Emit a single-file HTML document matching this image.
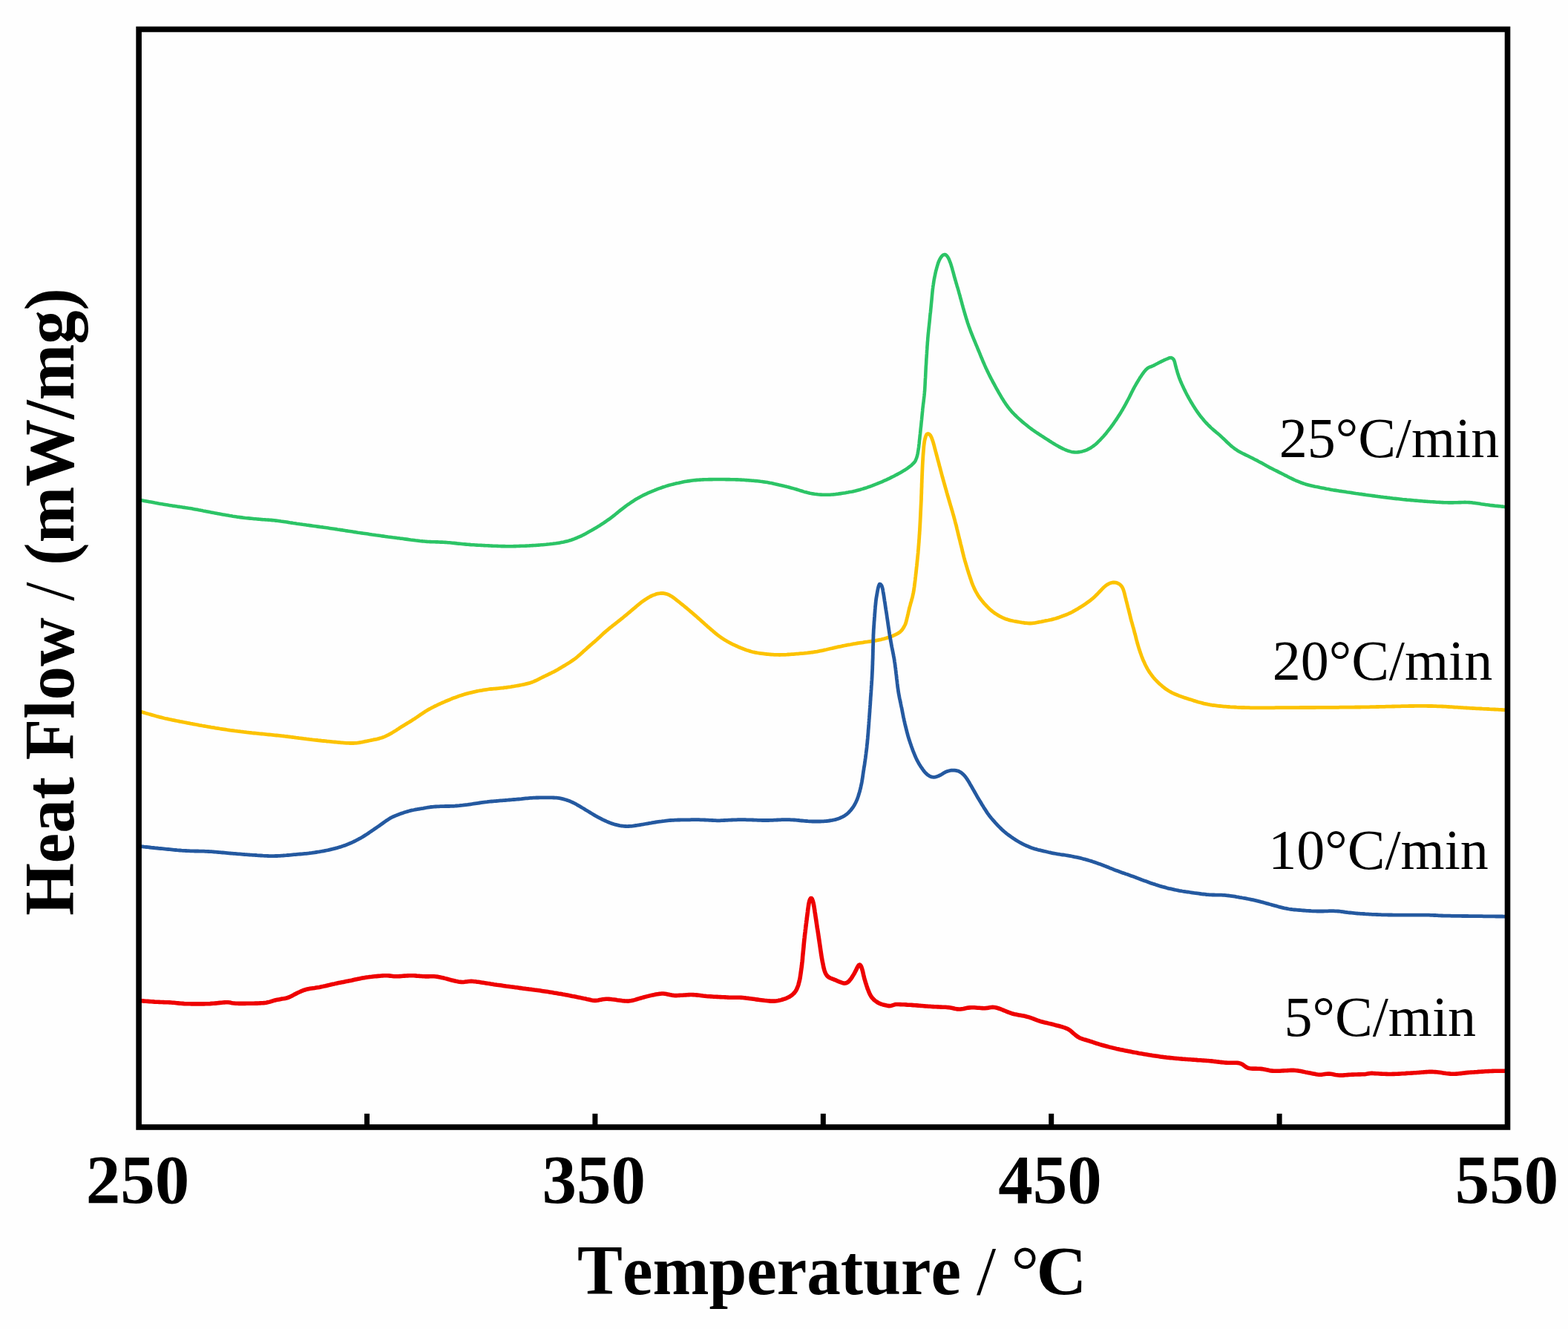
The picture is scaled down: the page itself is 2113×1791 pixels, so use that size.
<!DOCTYPE html>
<html><head><meta charset="utf-8"><title>DSC heat flow curves</title>
<style>
html,body{margin:0;padding:0;background:#fefefe;}
text{font-kerning:none;}
body{width:2113px;height:1791px;overflow:hidden;}
svg{display:block;}
.b{font-family:"Liberation Serif","Times New Roman",serif;font-weight:bold;fill:#000;}
.r{font-family:"Liberation Serif","Times New Roman",serif;font-weight:normal;fill:#000;}
</style></head>
<body>
<svg xmlns="http://www.w3.org/2000/svg" width="2113" height="1791" viewBox="0 0 2113 1791">
<rect width="2113" height="1791" fill="#fefefe"/>
<clipPath id="c"><rect x="187.1" y="39.5" width="1844.4" height="1479.5"/></clipPath>
<g clip-path="url(#c)" fill="none" stroke-linejoin="round" stroke-linecap="round">
<path d="M188.0,673.7L192.2,674.5 192.7,674.6 193.4,674.7 194.4,674.9 195.6,675.2 197.1,675.4 199.0,675.8 201.1,676.2 203.4,676.6 205.9,677.1 208.5,677.6 211.0,678.0 213.6,678.5 216.1,678.9 218.5,679.3 220.7,679.7 222.5,680.0 224.3,680.3 226.2,680.6 228.2,680.9 230.2,681.2 232.4,681.6 234.6,681.9 236.9,682.2 239.1,682.6 241.4,682.9 243.7,683.2 245.9,683.6 248.1,683.9 250.1,684.2 252.1,684.5 254.0,684.8 255.7,685.0 257.4,685.3 259.1,685.6 260.7,685.9 263.6,686.4 265.9,686.8 267.8,687.2 269.4,687.5 270.8,687.8 272.3,688.0 273.8,688.4 275.8,688.7 278.1,689.2 281.0,689.8 282.6,690.1 284.3,690.4 286.0,690.7 287.8,691.1 289.6,691.4 291.6,691.8 293.7,692.2 295.9,692.6 298.1,693.0 300.4,693.4 302.7,693.8 305.0,694.2 307.3,694.6 309.5,695.0 311.7,695.3 313.7,695.7 315.7,696.0 317.6,696.3 319.4,696.6 321.1,696.8 323.5,697.1 325.8,697.4 328.2,697.7 330.5,698.0 332.8,698.2 334.9,698.4 337.0,698.6 339.0,698.8 340.9,699.0 342.7,699.2 344.5,699.3 346.3,699.5 348.0,699.6 349.7,699.7 351.4,699.9 353.8,700.1 356.0,700.2 358.0,700.4 359.8,700.5 361.6,700.6 363.3,700.8 365.1,700.9 367.1,701.1 369.3,701.3 371.8,701.6 373.5,701.8 375.2,702.0 376.9,702.2 378.7,702.5 380.5,702.7 382.3,703.0 384.3,703.3 386.3,703.6 388.4,703.9 390.5,704.3 392.8,704.6 395.2,705.0 397.5,705.3 400.0,705.7 402.3,706.0 404.1,706.3 405.8,706.5 407.6,706.8 409.4,707.0 411.3,707.3 413.2,707.6 415.2,707.8 417.3,708.1 419.4,708.4 421.5,708.7 423.6,709.0 425.7,709.3 427.9,709.6 430.0,709.9 432.1,710.2 434.2,710.4 436.3,710.7 438.4,711.0 440.4,711.3 442.4,711.6 444.4,711.9 446.4,712.2 448.5,712.5 450.6,712.8 452.7,713.1 454.8,713.5 456.9,713.8 459.0,714.1 461.2,714.4 463.3,714.7 465.4,715.1 467.5,715.4 469.5,715.7 471.5,716.0 473.4,716.3 475.3,716.6 477.1,716.9 478.9,717.1 480.7,717.4 482.5,717.7 484.8,718.0 487.2,718.4 489.5,718.7 491.7,719.0 493.8,719.3 495.8,719.6 497.7,719.9 499.6,720.2 501.4,720.5 503.3,720.7 505.1,721.0 507.0,721.3 508.9,721.5 510.9,721.8 512.9,722.1 514.9,722.4 517.0,722.6 519.0,722.9 521.1,723.2 523.1,723.5 525.1,723.7 527.1,724.0 529.2,724.3 531.2,724.5 533.2,724.8 535.2,725.1 537.2,725.3 539.2,725.6 541.3,725.8 543.3,726.1 545.3,726.4 547.3,726.6 549.4,726.9 551.4,727.2 553.5,727.5 555.6,727.7 557.7,728.0 559.7,728.3 561.8,728.5 563.8,728.7 565.8,729.0 567.7,729.2 569.7,729.4 571.6,729.5 573.5,729.7 575.6,729.9 577.8,730.0 579.8,730.1 581.9,730.2 583.8,730.2 585.8,730.3 587.7,730.4 589.6,730.4 591.6,730.5 593.6,730.6 595.7,730.6 597.8,730.8 600.0,730.9 601.9,731.0 603.9,731.2 605.8,731.3 607.8,731.5 609.8,731.7 611.8,731.9 613.9,732.1 616.0,732.4 618.0,732.6 620.1,732.8 622.2,733.0 624.3,733.2 626.4,733.4 628.4,733.6 630.5,733.8 632.5,733.9 634.5,734.1 636.5,734.2 638.5,734.3 640.5,734.5 642.5,734.6 644.5,734.7 646.5,734.8 648.5,734.9 650.6,735.0 652.6,735.1 654.6,735.2 656.6,735.3 658.7,735.4 660.7,735.5 662.7,735.6 664.7,735.7 666.6,735.7 668.4,735.8 670.3,735.9 672.1,736.0 674.0,736.0 675.9,736.1 677.8,736.1 679.8,736.1 681.9,736.2 684.1,736.2 686.4,736.2 688.7,736.2 691.0,736.2 692.8,736.1 694.6,736.1 696.5,736.0 698.4,736.0 700.4,735.9 702.4,735.8 704.5,735.8 706.7,735.7 708.9,735.6 711.1,735.5 713.3,735.4 715.5,735.2 717.7,735.1 719.8,735.0 721.8,734.9 723.8,734.7 725.7,734.6 727.5,734.5 729.3,734.3 731.1,734.2 733.4,734.0 735.8,733.8 738.1,733.5 740.5,733.3 742.7,733.0 744.9,732.8 747.0,732.5 749.0,732.3 750.9,732.0 752.7,731.7 754.5,731.4 756.2,731.1 757.9,730.8 759.6,730.5 761.2,730.1 763.6,729.5 765.9,728.9 768.0,728.3 770.0,727.7 771.8,727.0 773.6,726.4 775.3,725.7 777.1,725.0 778.8,724.2 780.7,723.4 782.5,722.6 784.2,721.8 786.0,720.9 787.7,720.0 789.5,719.1 791.3,718.1 793.0,717.1 794.8,716.1 796.6,715.1 798.4,714.0 800.2,713.0 801.9,711.9 803.6,710.9 805.3,709.9 806.9,708.9 808.6,707.9 810.3,706.8 811.9,705.7 813.6,704.7 815.3,703.5 816.9,702.4 818.6,701.2 820.3,700.0 822.0,698.8 823.6,697.6 825.2,696.4 826.8,695.1 828.5,693.8 830.1,692.5 831.8,691.1 833.4,689.8 835.1,688.4 836.7,687.1 838.4,685.8 840.0,684.6 841.6,683.4 843.2,682.1 844.9,680.9 846.6,679.7 848.3,678.6 850.0,677.4 851.7,676.3 853.4,675.2 855.0,674.1 856.7,673.1 858.4,672.1 860.0,671.1 861.7,670.2 863.4,669.3 865.3,668.3 867.1,667.3 869.0,666.4 870.8,665.6 872.6,664.7 874.5,663.9 876.3,663.1 878.1,662.4 879.9,661.6 881.8,660.9 883.6,660.1 885.4,659.4 887.2,658.7 888.9,658.1 890.6,657.5 892.4,656.8 894.2,656.2 896.2,655.6 898.3,654.9 900.5,654.2 902.9,653.6 904.6,653.1 906.4,652.7 908.2,652.2 910.0,651.8 912.0,651.3 914.0,650.9 916.1,650.4 918.3,650.0 920.5,649.5 922.7,649.1 924.8,648.7 927.0,648.4 929.1,648.1 931.2,647.8 933.2,647.5 935.2,647.3 937.2,647.1 939.2,646.9 941.2,646.7 943.2,646.6 945.2,646.5 947.3,646.4 949.3,646.3 951.3,646.3 953.3,646.2 955.3,646.1 957.3,646.1 959.3,646.1 961.3,646.0 963.3,646.0 965.3,646.0 967.4,646.0 969.6,646.0 971.8,646.0 974.0,646.0 976.3,646.0 978.5,646.1 980.7,646.1 982.8,646.1 984.8,646.2 986.7,646.2 988.5,646.3 990.3,646.3 991.9,646.4 993.5,646.4 996.3,646.5 998.6,646.6 1000.6,646.7 1002.3,646.8 1004.0,647.0 1005.8,647.1 1007.8,647.2 1010.0,647.4 1011.7,647.5 1013.4,647.7 1015.1,647.8 1016.8,648.0 1018.6,648.1 1020.5,648.3 1022.5,648.5 1024.7,648.8 1026.9,649.0 1029.3,649.4 1031.7,649.7 1034.1,650.1 1035.9,650.4 1037.6,650.8 1039.5,651.1 1041.4,651.5 1043.4,652.0 1045.5,652.4 1047.7,652.9 1050.0,653.5 1052.2,654.0 1054.4,654.5 1056.6,655.0 1058.7,655.6 1060.7,656.1 1062.6,656.5 1064.4,657.0 1066.2,657.5 1067.9,657.9 1070.3,658.6 1072.6,659.3 1074.9,660.0 1077.0,660.6 1078.9,661.3 1080.7,661.8 1082.5,662.4 1084.2,662.9 1086.0,663.3 1087.8,663.8 1089.6,664.2 1091.6,664.7 1093.7,665.1 1095.8,665.4 1097.9,665.8 1100.0,666.0 1102.1,666.3 1104.2,666.5 1106.2,666.6 1108.3,666.7 1110.3,666.8 1112.4,666.8 1114.4,666.8 1116.5,666.8 1118.5,666.7 1120.6,666.5 1122.6,666.4 1124.7,666.2 1126.7,665.9 1128.8,665.7 1130.9,665.4 1133.0,665.1 1135.0,664.8 1137.0,664.5 1139.0,664.2 1141.0,663.8 1142.9,663.5 1144.9,663.1 1146.8,662.8 1148.8,662.4 1150.8,661.9 1152.8,661.5 1154.7,661.0 1156.7,660.5 1158.7,660.0 1160.6,659.4 1162.5,658.9 1164.3,658.3 1166.2,657.7 1168.1,657.1 1170.0,656.4 1171.9,655.8 1173.8,655.1 1175.7,654.4 1177.6,653.6 1179.5,652.9 1181.4,652.2 1183.2,651.4 1185.1,650.6 1187.0,649.9 1188.9,649.1 1190.7,648.2 1192.6,647.4 1194.5,646.6 1196.4,645.7 1198.3,644.8 1200.1,643.9 1202.0,642.9 1203.9,642.0 1205.7,641.1 1207.5,640.1 1209.4,639.1 1211.4,638.0 1213.4,636.9 1215.4,635.8 1217.3,634.6 1219.2,633.5 1220.9,632.4 1222.5,631.3 1224.0,630.2 1225.4,629.1 1226.7,628.2 1228.6,626.7 1230.1,625.2 1231.3,624.0 1232.3,622.9 1233.3,621.5 1234.1,619.7 1235.0,617.5 1235.8,614.8 1236.2,613.3 1236.6,611.7 1236.9,610.0 1237.2,608.2 1237.5,606.3 1237.8,604.3 1238.1,602.3 1238.3,600.2 1238.6,598.0 1238.8,595.9 1239.0,593.6 1239.3,591.4 1239.5,589.1 1239.7,586.9 1240.0,584.8 1240.2,582.8 1240.4,580.8 1240.6,578.8 1240.8,576.8 1241.1,574.7 1241.3,572.5 1241.5,570.3 1241.7,568.1 1242.0,565.8 1242.2,563.6 1242.4,561.4 1242.6,559.2 1242.8,557.2 1243.0,555.2 1243.2,553.4 1243.3,551.6 1243.5,549.9 1243.7,548.3 1243.9,546.8 1244.2,544.1 1244.5,542.0 1244.7,540.4 1244.8,539.0 1245.0,537.5 1245.2,535.7 1245.5,533.2 1245.8,529.9 1245.9,528.4 1246.1,526.8 1246.2,525.2 1246.3,523.5 1246.4,521.7 1246.5,519.9 1246.6,517.8 1246.7,515.7 1246.8,513.5 1246.9,511.2 1247.1,508.9 1247.2,506.6 1247.3,504.3 1247.4,502.0 1247.5,499.8 1247.6,497.6 1247.7,495.6 1247.8,493.6 1248.0,491.6 1248.1,489.8 1248.2,487.8 1248.3,485.6 1248.4,483.4 1248.6,481.1 1248.7,478.9 1248.9,476.7 1249.0,474.6 1249.1,472.4 1249.3,470.4 1249.4,468.4 1249.5,466.4 1249.7,464.6 1249.8,462.7 1249.9,461.0 1250.1,459.3 1250.2,457.7 1250.3,456.0 1250.5,453.8 1250.7,451.3 1251.0,448.9 1251.2,446.6 1251.4,444.5 1251.6,442.5 1251.8,440.7 1252.0,438.9 1252.2,437.1 1252.4,435.2 1252.6,433.3 1252.8,431.2 1253.0,429.1 1253.2,427.0 1253.4,424.9 1253.6,422.8 1253.9,420.8 1254.1,418.7 1254.3,416.6 1254.5,414.6 1254.7,412.6 1254.9,410.5 1255.1,408.4 1255.3,406.3 1255.5,404.2 1255.7,402.0 1255.9,399.8 1256.1,397.6 1256.3,395.5 1256.5,393.4 1256.7,391.4 1256.9,389.5 1257.2,387.6 1257.4,385.6 1257.8,383.3 1258.1,381.1 1258.4,379.1 1258.7,377.1 1259.1,375.3 1259.4,373.5 1259.8,371.7 1260.2,369.8 1260.6,367.7 1261.1,365.5 1261.7,363.4 1262.2,361.4 1262.8,359.4 1263.3,357.6 1263.8,356.0 1264.4,354.0 1265.4,351.6 1266.3,349.7 1267.2,348.0 1268.2,346.5 1269.5,344.8 1271.3,343.4 1273.1,343.0 1274.6,343.5 1276.1,344.9 1277.7,347.1 1278.3,348.4 1279.1,350.0 1279.8,351.8 1280.6,353.8 1281.4,356.2 1282.1,358.5 1282.6,360.2 1283.2,362.1 1283.7,364.1 1284.3,366.2 1284.9,368.4 1285.5,370.6 1286.0,372.7 1286.6,374.6 1287.1,376.6 1287.7,378.4 1288.2,380.1 1288.6,381.7 1289.2,383.5 1289.7,385.4 1290.4,387.5 1291.1,390.0 1291.6,391.7 1292.1,393.5 1292.6,395.4 1293.2,397.4 1293.8,399.5 1294.3,401.7 1295.0,403.9 1295.6,406.2 1296.2,408.3 1296.7,410.4 1297.3,412.4 1297.8,414.3 1298.4,416.3 1299.0,418.5 1299.6,420.6 1300.2,422.6 1300.7,424.5 1301.3,426.3 1301.8,428.1 1302.3,429.8 1302.9,431.5 1303.4,433.2 1304.0,435.2 1304.8,437.3 1305.5,439.5 1306.3,441.6 1307.0,443.6 1307.7,445.5 1308.4,447.4 1309.1,449.2 1309.9,451.2 1310.7,453.2 1311.5,455.2 1312.3,457.1 1313.1,459.0 1313.9,460.9 1314.7,462.8 1315.5,464.8 1316.3,466.7 1317.1,468.6 1317.9,470.6 1318.7,472.5 1319.5,474.4 1320.3,476.4 1321.1,478.3 1321.9,480.3 1322.7,482.3 1323.6,484.3 1324.4,486.3 1325.2,488.3 1326.1,490.2 1326.9,492.1 1327.8,494.1 1328.6,496.0 1329.5,497.8 1330.4,499.7 1331.3,501.6 1332.2,503.5 1333.1,505.2 1333.9,506.9 1334.8,508.6 1335.7,510.4 1336.8,512.3 1337.8,514.4 1339.0,516.5 1339.9,518.1 1340.8,519.8 1341.7,521.5 1342.7,523.3 1343.7,525.1 1344.8,527.0 1345.8,528.9 1346.9,530.7 1347.9,532.5 1348.9,534.1 1349.9,535.9 1351.1,537.8 1352.3,539.7 1353.4,541.5 1354.6,543.2 1355.7,544.9 1356.8,546.4 1357.9,548.0 1359.0,549.4 1360.4,551.2 1361.8,552.8 1363.2,554.4 1364.5,555.9 1365.9,557.3 1367.2,558.7 1368.6,560.0 1370.2,561.6 1371.8,563.1 1373.5,564.6 1375.1,566.1 1376.7,567.5 1378.3,568.9 1379.9,570.2 1381.5,571.5 1383.1,572.8 1384.6,574.0 1386.2,575.3 1387.8,576.5 1389.6,577.8 1391.3,579.1 1393.1,580.3 1394.9,581.6 1396.7,582.8 1398.5,584.0 1400.2,585.1 1401.9,586.3 1403.6,587.4 1405.4,588.5 1407.1,589.6 1408.8,590.8 1410.6,591.9 1412.4,593.0 1414.1,594.2 1415.9,595.3 1417.6,596.4 1419.4,597.5 1421.1,598.5 1422.9,599.6 1424.6,600.6 1426.4,601.6 1428.3,602.6 1430.3,603.6 1432.2,604.6 1434.2,605.5 1436.1,606.3 1438.1,607.1 1440.0,607.8 1442.0,608.4 1443.9,608.9 1445.8,609.2 1447.9,609.4 1450.0,609.5 1452.1,609.4 1454.3,609.1 1456.3,608.8 1458.2,608.4 1460.0,607.9 1461.9,607.3 1463.8,606.6 1465.6,605.8 1467.3,604.9 1469.1,604.0 1470.8,602.9 1472.6,601.7 1474.3,600.4 1475.8,599.2 1477.3,597.9 1478.9,596.5 1480.4,594.9 1482.0,593.4 1483.5,591.8 1484.9,590.3 1486.1,589.0 1487.3,587.7 1488.5,586.3 1489.7,584.9 1491.1,583.2 1492.5,581.4 1494.1,579.4 1495.2,578.0 1496.3,576.6 1497.4,575.1 1498.6,573.5 1499.8,571.8 1501.0,570.1 1502.3,568.2 1503.6,566.4 1504.8,564.6 1506.0,562.8 1507.1,561.0 1508.2,559.4 1509.4,557.5 1510.5,555.7 1511.6,553.8 1512.8,551.9 1513.8,550.0 1514.9,548.2 1515.9,546.4 1516.9,544.6 1517.8,542.9 1518.7,541.2 1519.6,539.5 1520.7,537.5 1521.7,535.6 1522.6,533.7 1523.5,531.9 1524.4,530.1 1525.2,528.4 1526.1,526.8 1526.9,525.1 1527.8,523.5 1528.7,521.7 1529.8,519.8 1530.9,517.9 1532.0,516.0 1533.0,514.3 1534.1,512.5 1535.1,510.9 1536.1,509.2 1537.3,507.5 1538.6,505.5 1539.9,503.7 1541.2,501.9 1542.5,500.2 1543.8,498.7 1545.1,497.4 1546.7,496.0 1548.6,494.9 1550.5,494.3 1552.5,493.5 1554.5,492.6 1556.2,491.7 1558.0,490.8 1560.0,489.8 1561.8,488.8 1563.6,487.9 1565.1,487.1 1567.7,485.9 1569.9,484.8 1571.8,484.0 1573.5,483.3 1576.2,482.2 1578.3,482.1 1580.0,482.8 1581.5,484.4 1582.5,486.4 1583.0,488.0 1583.5,490.0 1584.0,492.1 1584.6,494.4 1585.2,496.7 1585.8,498.7 1586.3,500.4 1586.8,502.2 1587.4,504.0 1588.0,505.9 1588.7,508.0 1589.5,510.2 1590.2,511.9 1590.9,513.7 1591.7,515.5 1592.5,517.4 1593.4,519.4 1594.3,521.3 1595.2,523.3 1596.1,525.1 1597.0,526.9 1597.9,528.8 1598.9,530.7 1599.9,532.6 1600.9,534.4 1601.8,536.2 1602.8,537.9 1603.8,539.6 1604.7,541.2 1605.8,543.0 1606.8,544.7 1607.9,546.5 1609.0,548.2 1610.0,549.9 1611.1,551.5 1612.1,553.0 1613.2,554.6 1614.5,556.5 1615.9,558.3 1617.2,560.1 1618.5,561.8 1619.9,563.4 1621.2,565.0 1622.6,566.7 1624.1,568.4 1625.5,570.0 1627.0,571.5 1628.4,573.0 1630.0,574.5 1631.6,576.1 1633.3,577.6 1634.9,579.0 1636.5,580.4 1638.0,581.6 1639.2,582.7 1640.5,583.8 1641.9,584.9 1643.6,586.4 1645.2,587.9 1646.5,589.1 1647.9,590.4 1649.5,591.8 1651.1,593.4 1652.7,595.0 1654.3,596.6 1655.9,598.0 1657.4,599.4 1658.7,600.6 1660.4,602.0 1662.4,603.5 1664.1,604.8 1665.7,605.9 1667.2,606.9 1668.9,607.9 1670.7,608.9 1672.6,610.0 1674.5,611.0 1676.4,611.9 1678.3,612.9 1680.3,613.8 1682.3,614.8 1684.2,615.8 1686.2,616.8 1688.1,617.7 1690.1,618.7 1692.0,619.7 1693.9,620.6 1695.8,621.7 1697.7,622.7 1699.5,623.6 1701.2,624.6 1702.9,625.6 1704.7,626.6 1706.4,627.5 1708.2,628.5 1710.1,629.6 1712.1,630.6 1714.0,631.5 1715.9,632.5 1717.8,633.5 1719.8,634.4 1721.7,635.4 1723.6,636.4 1725.5,637.3 1727.4,638.3 1729.4,639.3 1731.3,640.3 1733.2,641.2 1735.2,642.2 1737.1,643.2 1739.0,644.2 1741.0,645.1 1743.0,646.1 1744.9,647.0 1746.8,647.8 1748.8,648.6 1750.7,649.4 1752.6,650.2 1754.4,650.8 1756.3,651.5 1758.2,652.1 1760.1,652.7 1761.9,653.2 1763.8,653.7 1765.8,654.2 1768.0,654.7 1770.1,655.2 1772.3,655.7 1774.4,656.1 1776.6,656.5 1778.8,657.0 1781.0,657.4 1783.1,657.8 1785.3,658.2 1787.4,658.7 1789.6,659.1 1791.7,659.5 1793.8,659.9 1796.0,660.3 1798.1,660.6 1800.2,660.9 1802.3,661.2 1804.5,661.6 1806.6,661.9 1808.8,662.2 1810.9,662.5 1813.1,662.8 1815.3,663.2 1817.4,663.5 1819.6,663.8 1821.7,664.1 1823.7,664.4 1825.4,664.7 1827.1,665.0 1829.3,665.3 1832.3,665.7 1833.8,665.9 1835.4,666.1 1837.1,666.4 1838.9,666.6 1840.8,666.9 1842.9,667.2 1845.1,667.5 1847.4,667.8 1849.7,668.1 1852.0,668.4 1854.1,668.7 1856.1,668.9 1858.0,669.2 1859.9,669.4 1861.9,669.7 1863.8,669.9 1865.8,670.2 1867.8,670.4 1869.9,670.7 1871.9,670.9 1874.0,671.2 1876.0,671.4 1878.0,671.7 1880.0,671.9 1882.0,672.1 1884.0,672.3 1886.0,672.5 1888.0,672.7 1890.0,673.0 1892.0,673.2 1894.0,673.4 1896.0,673.6 1898.0,673.7 1900.0,673.9 1902.0,674.1 1904.0,674.3 1906.0,674.5 1908.0,674.6 1910.0,674.8 1912.0,675.0 1914.0,675.1 1916.0,675.3 1918.0,675.5 1920.0,675.6 1922.0,675.7 1924.0,675.9 1926.0,676.0 1928.0,676.2 1930.0,676.3 1932.0,676.4 1934.0,676.5 1936.0,676.7 1938.0,676.8 1940.0,676.9 1942.0,677.0 1944.0,677.1 1946.0,677.2 1948.0,677.3 1950.0,677.3 1952.0,677.4 1954.0,677.4 1956.0,677.4 1958.0,677.4 1960.0,677.3 1962.0,677.3 1964.0,677.2 1966.0,677.1 1968.0,677.1 1970.0,677.0 1972.0,677.0 1974.0,676.9 1976.0,677.0 1978.0,677.0 1980.0,677.1 1982.0,677.3 1984.0,677.4 1986.0,677.7 1988.0,677.9 1990.0,678.2 1992.0,678.5 1994.0,678.8 1996.0,679.2 1997.9,679.5 1999.9,679.8 2001.8,680.1 2003.8,680.3 2005.8,680.6 2007.9,680.9 2010.2,681.1 2012.7,681.4 2015.2,681.7 2017.6,681.9 2019.8,682.1 2021.7,682.3 2023.2,682.5 2024.3,682.6 2025.2,682.6 2025.8,682.7 2030.0,683.1" stroke="#2cc466" stroke-width="4.6"/>
<path d="M188.0,958.6L192.1,959.8 192.6,960.0 193.3,960.2 194.2,960.4 195.4,960.8 196.8,961.2 198.6,961.7 200.6,962.3 202.8,962.9 205.2,963.6 207.7,964.3 210.1,965.0 212.6,965.7 215.1,966.3 217.5,966.9 219.8,967.5 221.7,968.0 223.5,968.4 225.2,968.7 226.9,969.1 228.7,969.5 230.6,969.9 232.5,970.3 234.4,970.7 236.4,971.1 238.5,971.5 240.5,971.9 242.5,972.4 244.6,972.7 246.6,973.1 248.7,973.5 250.7,973.9 252.8,974.3 254.8,974.7 256.8,975.1 258.8,975.4 260.7,975.8 262.7,976.2 264.7,976.5 266.6,976.9 268.6,977.3 270.6,977.6 272.5,978.0 274.5,978.3 276.5,978.7 278.4,979.0 280.4,979.4 282.4,979.7 284.4,980.1 286.3,980.4 288.3,980.7 290.3,981.1 292.2,981.4 294.2,981.7 296.1,982.0 298.1,982.3 300.1,982.6 302.1,982.9 304.1,983.2 306.1,983.5 308.2,983.8 310.2,984.1 312.2,984.3 314.2,984.6 316.3,984.9 318.3,985.1 320.3,985.4 322.3,985.6 324.3,985.9 326.4,986.1 328.4,986.4 330.4,986.6 332.4,986.9 334.4,987.1 336.5,987.3 338.5,987.5 340.5,987.8 342.5,988.0 344.5,988.2 346.6,988.4 348.6,988.6 350.6,988.8 352.6,989.0 354.6,989.2 356.6,989.4 358.6,989.6 360.6,989.8 362.7,990.0 364.7,990.2 366.7,990.4 368.7,990.6 370.7,990.8 372.7,991.0 374.7,991.2 376.7,991.4 378.8,991.6 380.8,991.8 382.8,992.0 384.8,992.3 386.8,992.5 388.9,992.8 390.9,993.0 392.9,993.3 394.9,993.5 396.9,993.8 399.0,994.1 401.0,994.3 403.0,994.6 405.0,994.8 407.1,995.1 409.1,995.4 411.1,995.6 413.1,995.9 415.1,996.1 417.1,996.4 419.1,996.6 421.1,996.9 423.1,997.1 425.1,997.3 427.2,997.5 429.4,997.8 431.6,998.0 433.8,998.3 436.1,998.5 438.3,998.7 440.6,999.0 442.8,999.2 445.1,999.4 447.2,999.6 449.4,999.8 451.4,1000.0 453.2,1000.2 455.0,1000.4 456.7,1000.5 458.3,1000.6 459.8,1000.8 461.4,1000.9 463.8,1001.1 466.9,1001.3 469.6,1001.4 471.7,1001.5 473.5,1001.5 475.0,1001.5 476.5,1001.5 478.0,1001.4 479.7,1001.3 481.6,1001.1 483.7,1000.8 485.8,1000.5 488.0,1000.1 490.2,999.7 492.3,999.2 494.3,998.8 496.3,998.4 498.2,998.0 500.0,997.6 502.3,997.2 504.5,996.7 506.5,996.3 508.5,995.9 510.4,995.4 512.3,994.8 514.3,994.2 516.1,993.6 517.9,992.9 519.7,992.1 521.5,991.2 523.3,990.3 525.1,989.3 526.9,988.3 528.7,987.3 530.4,986.3 532.1,985.2 533.8,984.2 535.5,983.1 537.2,982.0 538.9,980.8 540.6,979.7 542.4,978.7 544.1,977.6 545.9,976.5 547.7,975.4 549.5,974.3 551.3,973.2 553.1,972.1 554.9,971.0 556.7,969.8 558.5,968.7 560.2,967.6 561.9,966.4 563.6,965.2 565.4,964.0 567.1,962.8 568.8,961.7 570.5,960.5 572.2,959.4 574.0,958.3 575.8,957.2 577.6,956.2 579.4,955.2 581.1,954.2 582.9,953.3 584.7,952.4 586.5,951.5 588.4,950.6 590.3,949.6 592.3,948.7 594.2,947.9 596.1,947.0 598.1,946.2 600.0,945.3 601.9,944.5 603.8,943.7 605.8,942.9 607.7,942.1 609.6,941.3 611.5,940.6 613.5,939.9 615.4,939.2 617.3,938.5 619.2,937.8 621.1,937.2 623.0,936.6 624.9,936.0 626.8,935.4 628.7,934.9 630.6,934.4 632.7,933.8 634.8,933.3 636.9,932.8 639.0,932.3 641.1,931.9 643.2,931.4 645.3,931.0 647.4,930.6 649.4,930.3 651.5,929.9 653.5,929.6 655.6,929.3 657.6,929.0 659.7,928.7 661.7,928.5 663.8,928.3 665.8,928.1 667.9,928.0 669.9,927.8 672.0,927.6 674.0,927.4 676.1,927.2 678.1,927.0 680.2,926.7 682.2,926.5 684.3,926.2 686.3,925.9 688.4,925.6 690.5,925.2 692.5,924.9 694.6,924.5 696.6,924.2 698.7,923.8 700.8,923.4 702.8,923.0 704.9,922.6 707.0,922.2 709.0,921.7 711.1,921.2 713.1,920.7 715.1,920.0 717.0,919.4 718.9,918.6 720.7,917.8 722.5,917.0 724.4,916.1 726.3,915.1 728.2,914.1 730.1,913.2 731.8,912.3 733.6,911.5 735.3,910.6 737.1,909.8 738.9,908.9 740.7,908.0 742.6,907.1 744.4,906.2 746.2,905.3 748.0,904.3 749.8,903.3 751.7,902.3 753.5,901.2 755.4,900.1 757.2,899.0 759.0,897.9 760.9,896.8 762.6,895.8 764.2,894.8 765.9,893.7 767.6,892.7 769.3,891.6 770.9,890.5 772.6,889.3 774.3,888.1 776.0,886.8 777.6,885.5 779.1,884.2 780.7,882.9 782.3,881.5 783.9,880.0 785.5,878.6 787.1,877.1 788.6,875.8 790.1,874.4 791.5,873.1 793.2,871.6 794.9,870.1 796.6,868.7 798.2,867.3 799.8,865.9 801.4,864.6 802.8,863.3 804.3,862.0 805.8,860.6 807.3,859.2 808.7,857.9 810.1,856.6 811.5,855.3 812.9,853.9 814.6,852.4 816.1,851.1 817.6,849.8 819.1,848.6 820.6,847.3 822.3,845.9 824.0,844.6 825.7,843.2 827.5,841.8 829.2,840.5 830.9,839.1 832.5,837.9 834.1,836.6 835.7,835.3 837.3,834.0 838.9,832.8 840.5,831.5 842.1,830.2 843.7,828.9 845.3,827.5 846.9,826.2 848.5,824.9 850.1,823.5 851.7,822.1 853.4,820.7 855.0,819.4 856.5,818.1 858.0,816.8 859.4,815.6 860.9,814.4 862.5,813.1 864.3,811.7 866.0,810.4 867.6,809.3 869.2,808.2 870.7,807.2 872.3,806.2 874.1,805.1 876.1,804.0 878.1,803.0 880.1,802.1 882.1,801.4 883.9,800.7 885.9,800.2 888.0,799.8 890.0,799.5 891.8,799.5 893.6,799.5 895.8,799.8 897.8,800.3 900.0,801.0 901.9,801.9 903.5,802.8 905.2,803.8 907.0,805.0 908.9,806.4 910.7,807.8 912.3,809.1 913.9,810.3 915.4,811.5 916.9,812.8 918.6,814.1 920.4,815.5 922.2,817.0 923.8,818.4 925.3,819.5 926.7,820.7 928.2,822.0 929.7,823.3 931.3,824.6 932.9,826.0 934.5,827.4 936.2,828.8 937.7,830.2 939.3,831.5 940.8,832.9 942.3,834.2 943.8,835.5 945.3,836.9 946.8,838.2 948.3,839.6 949.8,841.0 951.4,842.3 952.9,843.7 954.5,845.1 956.1,846.5 957.7,847.9 959.4,849.3 961.1,850.8 962.8,852.2 964.4,853.6 966.0,854.9 967.6,856.1 969.2,857.3 970.7,858.4 972.6,859.8 974.5,861.0 976.4,862.2 978.2,863.3 979.9,864.3 981.6,865.2 983.3,866.2 985.1,867.1 987.0,868.1 989.0,869.0 990.9,869.9 992.9,870.8 994.8,871.7 996.7,872.5 998.6,873.3 1000.5,874.0 1002.5,874.8 1004.4,875.5 1006.4,876.2 1008.3,876.8 1010.2,877.4 1012.1,878.0 1014.0,878.5 1015.9,878.9 1017.8,879.3 1019.6,879.7 1021.6,880.0 1023.7,880.3 1026.0,880.6 1028.5,880.9 1030.1,881.1 1031.8,881.3 1033.5,881.5 1035.3,881.6 1037.2,881.8 1039.1,882.0 1041.3,882.1 1043.5,882.3 1045.9,882.4 1048.3,882.4 1050.6,882.5 1052.4,882.4 1054.2,882.4 1056.1,882.4 1058.2,882.3 1060.3,882.2 1062.4,882.0 1064.7,881.9 1066.9,881.7 1069.2,881.6 1071.3,881.4 1073.3,881.2 1075.3,881.1 1077.1,880.9 1078.8,880.7 1080.6,880.6 1083.1,880.4 1085.6,880.1 1088.0,879.9 1090.1,879.6 1092.1,879.4 1093.8,879.2 1095.6,879.0 1097.2,878.7 1098.9,878.4 1101.0,878.1 1103.2,877.7 1105.4,877.2 1107.4,876.8 1109.4,876.4 1111.4,875.9 1113.3,875.5 1115.4,875.0 1117.4,874.5 1119.5,874.0 1121.6,873.6 1123.6,873.1 1125.7,872.6 1127.8,872.2 1129.8,871.7 1131.9,871.3 1134.0,870.9 1136.1,870.4 1138.1,870.0 1140.2,869.6 1142.3,869.2 1144.4,868.8 1146.4,868.5 1148.5,868.1 1150.5,867.7 1152.6,867.4 1154.6,867.0 1156.7,866.7 1158.7,866.4 1160.8,866.1 1162.9,865.8 1164.9,865.4 1167.0,865.1 1169.0,864.9 1171.1,864.6 1173.1,864.3 1175.2,864.0 1177.2,863.7 1179.3,863.3 1181.4,863.0 1183.4,862.6 1185.5,862.2 1187.5,861.8 1189.4,861.3 1191.4,860.8 1193.4,860.2 1195.4,859.6 1197.3,859.0 1199.1,858.4 1200.9,857.8 1202.9,857.0 1204.8,856.1 1206.5,855.3 1208.3,854.5 1209.9,853.6 1211.5,852.7 1213.2,851.3 1214.8,849.8 1216.2,848.0 1217.4,846.2 1218.5,844.3 1219.4,842.5 1220.2,840.8 1220.8,839.0 1221.3,837.1 1221.8,835.1 1222.3,833.0 1222.8,831.0 1223.2,829.2 1223.7,827.3 1224.1,825.3 1224.6,823.2 1225.1,821.1 1225.6,818.9 1226.2,816.9 1226.7,815.0 1227.1,813.3 1227.6,811.7 1228.1,810.1 1228.5,808.4 1229.1,806.4 1229.7,804.1 1230.3,801.3 1230.8,799.0 1231.1,797.4 1231.4,795.8 1231.6,794.1 1231.9,792.2 1232.2,790.3 1232.4,788.2 1232.7,786.1 1233.0,783.8 1233.3,781.5 1233.5,779.2 1233.8,777.0 1234.0,774.8 1234.3,772.7 1234.5,770.7 1234.7,768.8 1234.9,767.0 1235.1,764.8 1235.4,762.6 1235.6,760.5 1235.8,758.4 1236.0,756.4 1236.2,754.4 1236.4,752.4 1236.6,750.5 1236.8,748.6 1237.0,746.7 1237.2,744.7 1237.3,742.8 1237.5,740.8 1237.7,738.8 1237.8,736.8 1238.0,734.8 1238.1,733.0 1238.3,731.1 1238.4,729.3 1238.5,727.4 1238.7,725.5 1238.8,723.5 1238.9,721.5 1239.1,719.3 1239.2,717.1 1239.4,714.8 1239.5,712.4 1239.6,710.6 1239.7,708.9 1239.8,707.0 1239.9,705.2 1240.0,703.3 1240.1,701.3 1240.2,699.3 1240.3,697.2 1240.4,695.1 1240.5,693.0 1240.6,690.9 1240.7,688.7 1240.8,686.6 1240.9,684.5 1241.0,682.4 1241.1,680.3 1241.2,678.3 1241.3,676.3 1241.4,674.3 1241.5,672.3 1241.5,670.2 1241.6,668.1 1241.7,666.0 1241.8,663.8 1241.8,661.7 1241.9,659.5 1242.0,657.4 1242.1,655.3 1242.1,653.2 1242.2,651.2 1242.3,649.2 1242.3,647.3 1242.4,645.5 1242.5,643.7 1242.5,642.0 1242.6,640.3 1242.7,637.9 1242.8,635.4 1242.9,633.0 1243.0,630.7 1243.1,628.5 1243.2,626.5 1243.3,624.5 1243.4,622.7 1243.5,621.0 1243.6,619.3 1243.7,617.7 1243.8,616.0 1243.9,614.4 1244.1,611.8 1244.3,609.2 1244.5,606.8 1244.7,604.6 1244.8,602.6 1245.0,600.8 1245.2,599.2 1245.4,597.6 1245.7,595.4 1246.2,592.6 1246.8,590.5 1247.3,588.7 1247.8,587.1 1248.9,585.1 1250.6,584.5 1252.2,585.1 1254.0,587.0 1254.7,588.4 1255.5,590.1 1256.2,592.1 1257.0,594.4 1257.7,596.5 1258.1,598.2 1258.7,600.1 1259.2,602.2 1259.7,604.3 1260.3,606.3 1260.8,608.4 1261.4,610.3 1261.9,612.3 1262.4,614.2 1262.9,616.1 1263.4,618.1 1263.9,620.0 1264.5,622.0 1265.0,623.9 1265.5,625.9 1266.0,627.9 1266.6,629.9 1267.1,631.9 1267.6,633.8 1268.1,635.7 1268.6,637.6 1269.1,639.5 1269.6,641.3 1270.1,643.3 1270.7,645.3 1271.2,647.3 1271.8,649.3 1272.4,651.4 1273.0,653.5 1273.6,655.6 1274.2,657.8 1274.8,659.9 1275.4,662.0 1275.9,663.9 1276.5,665.9 1277.0,667.8 1277.6,669.7 1278.1,671.6 1278.7,673.4 1279.2,675.3 1279.8,677.3 1280.4,679.2 1280.9,681.0 1281.5,682.9 1282.0,684.8 1282.6,686.7 1283.2,688.6 1283.7,690.5 1284.3,692.6 1284.9,694.7 1285.5,696.9 1286.1,699.1 1286.7,701.2 1287.2,703.3 1287.7,705.2 1288.3,707.2 1288.8,709.2 1289.2,711.0 1289.6,712.8 1290.1,714.7 1290.6,716.8 1291.1,718.9 1291.5,720.7 1292.0,722.6 1292.5,724.6 1293.0,726.7 1293.6,728.9 1294.1,731.1 1294.6,733.3 1295.2,735.4 1295.7,737.4 1296.2,739.4 1296.6,741.4 1297.1,743.4 1297.6,745.4 1298.1,747.4 1298.6,749.3 1299.1,751.3 1299.7,753.4 1300.2,755.4 1300.8,757.4 1301.4,759.4 1302.0,761.4 1302.6,763.4 1303.2,765.4 1303.8,767.5 1304.5,769.5 1305.1,771.5 1305.7,773.5 1306.4,775.5 1307.0,777.4 1307.7,779.4 1308.4,781.4 1309.0,783.4 1309.7,785.3 1310.4,787.1 1311.1,788.9 1311.9,790.6 1312.8,792.7 1313.7,794.7 1314.7,796.6 1315.7,798.4 1316.7,800.1 1317.6,801.7 1318.6,803.3 1319.8,805.0 1321.1,806.8 1322.4,808.5 1323.7,810.1 1325.0,811.7 1326.4,813.3 1327.9,814.9 1329.4,816.5 1331.0,818.1 1332.6,819.7 1334.2,821.2 1335.8,822.6 1337.3,823.9 1338.9,825.1 1340.4,826.2 1342.0,827.3 1343.6,828.3 1345.4,829.4 1347.0,830.3 1348.7,831.2 1350.5,832.1 1352.3,832.9 1354.2,833.7 1356.2,834.4 1358.1,835.0 1360.0,835.6 1361.9,836.1 1363.9,836.5 1366.1,837.0 1368.3,837.4 1370.7,837.8 1372.6,838.2 1374.5,838.5 1376.6,838.9 1378.7,839.2 1380.9,839.5 1383.0,839.7 1385.1,839.9 1387.0,840.0 1388.8,840.0 1391.0,839.9 1393.1,839.6 1395.0,839.4 1396.9,839.0 1398.9,838.6 1401.1,838.2 1403.2,837.8 1405.3,837.3 1407.5,836.9 1409.9,836.4 1412.3,836.0 1414.5,835.5 1416.6,835.1 1418.5,834.6 1420.1,834.2 1422.7,833.5 1424.5,832.9 1426.1,832.4 1427.8,831.8 1429.8,831.1 1431.8,830.3 1433.8,829.5 1435.9,828.7 1437.9,827.9 1439.8,827.1 1441.8,826.2 1443.7,825.3 1445.5,824.4 1447.2,823.4 1449.0,822.4 1450.8,821.3 1452.6,820.3 1454.3,819.2 1456.1,818.2 1457.8,817.1 1459.6,815.9 1461.4,814.7 1463.2,813.5 1464.9,812.3 1466.7,811.0 1468.4,809.8 1469.9,808.6 1471.4,807.4 1473.0,806.1 1474.5,804.7 1476.0,803.3 1477.5,801.8 1479.1,800.2 1480.6,798.6 1482.1,797.0 1483.6,795.5 1485.1,793.9 1486.7,792.3 1488.3,790.8 1489.8,789.5 1491.3,788.4 1493.4,787.1 1495.4,786.1 1497.4,785.4 1499.4,785.0 1501.4,784.9 1503.5,785.2 1505.5,785.7 1507.3,786.5 1508.9,787.5 1510.3,788.8 1511.7,790.4 1512.9,792.5 1513.6,794.1 1514.2,795.9 1514.8,797.9 1515.4,800.1 1515.9,802.3 1516.5,804.7 1517.1,806.8 1517.5,808.6 1518.0,810.5 1518.5,812.5 1519.0,814.5 1519.5,816.5 1520.0,818.6 1520.6,820.6 1521.1,822.6 1521.6,824.6 1522.1,826.7 1522.6,828.7 1523.1,830.8 1523.6,832.8 1524.1,834.8 1524.6,836.7 1525.2,838.6 1525.7,840.5 1526.2,842.4 1526.7,844.2 1527.3,846.1 1527.8,847.9 1528.3,849.9 1528.8,851.8 1529.3,853.8 1529.9,855.7 1530.4,857.8 1530.9,859.9 1531.4,861.9 1532.0,864.0 1532.5,866.0 1533.1,868.0 1533.7,870.1 1534.3,872.1 1534.9,874.1 1535.6,876.1 1536.2,878.1 1536.9,880.0 1537.6,882.0 1538.3,884.0 1539.1,886.1 1539.9,888.1 1540.7,890.1 1541.6,891.9 1542.4,893.7 1543.2,895.5 1544.2,897.5 1545.2,899.4 1546.1,901.1 1547.1,902.8 1548.2,904.5 1549.2,906.2 1550.3,907.7 1551.4,909.2 1552.6,910.8 1554.1,912.7 1556.0,914.9 1557.1,916.1 1558.4,917.4 1559.7,918.8 1561.2,920.2 1562.8,921.7 1564.6,923.3 1566.3,924.8 1568.0,926.2 1569.7,927.5 1571.4,928.7 1573.0,929.8 1574.9,931.0 1576.9,932.2 1579.0,933.3 1581.1,934.3 1583.1,935.2 1585.0,936.0 1586.8,936.7 1588.4,937.4 1589.9,938.0 1592.0,938.7 1593.4,939.2 1594.8,939.7 1596.8,940.4 1600.2,941.5 1601.5,941.9 1602.9,942.4 1604.4,942.8 1605.9,943.3 1607.5,943.8 1609.2,944.4 1611.1,944.9 1613.1,945.6 1615.2,946.2 1617.4,946.8 1619.8,947.4 1622.3,948.1 1624.9,948.6 1627.5,949.2 1630.0,949.7 1632.1,950.0 1633.7,950.3 1635.2,950.5 1636.9,950.7 1638.5,950.9 1640.2,951.1 1641.9,951.3 1643.8,951.5 1645.6,951.7 1647.6,951.9 1649.5,952.1 1651.5,952.2 1653.6,952.4 1655.6,952.5 1657.7,952.7 1659.8,952.8 1662.0,952.9 1664.2,953.0 1666.5,953.2 1668.9,953.3 1671.3,953.4 1673.8,953.5 1676.2,953.5 1678.2,953.6 1679.9,953.7 1681.6,953.7 1683.3,953.7 1684.9,953.8 1686.6,953.8 1688.3,953.8 1690.1,953.8 1691.8,953.9 1693.6,953.9 1695.4,953.9 1697.3,953.9 1699.2,953.9 1701.0,953.9 1702.9,953.9 1704.9,953.9 1706.8,953.8 1708.8,953.8 1710.8,953.8 1712.9,953.8 1715.0,953.8 1717.1,953.8 1719.2,953.7 1721.4,953.7 1723.7,953.7 1726.0,953.7 1728.5,953.7 1731.1,953.6 1733.7,953.6 1736.3,953.6 1738.9,953.6 1740.5,953.6 1742.1,953.6 1743.7,953.6 1745.3,953.6 1746.9,953.6 1748.6,953.6 1750.4,953.6 1752.2,953.5 1754.1,953.5 1756.0,953.5 1758.0,953.5 1759.9,953.5 1761.9,953.5 1763.9,953.5 1765.9,953.5 1767.9,953.5 1769.9,953.5 1772.0,953.5 1774.0,953.4 1776.1,953.4 1778.2,953.4 1780.3,953.4 1782.4,953.4 1784.5,953.4 1786.6,953.4 1788.7,953.4 1790.8,953.3 1792.9,953.3 1795.1,953.3 1797.2,953.3 1799.3,953.3 1801.4,953.3 1803.6,953.3 1805.7,953.2 1807.8,953.2 1809.9,953.2 1812.0,953.2 1814.1,953.2 1816.2,953.1 1818.3,953.1 1820.4,953.1 1822.4,953.1 1824.5,953.1 1826.5,953.0 1828.5,953.0 1830.5,953.0 1832.5,953.0 1834.5,952.9 1836.5,952.9 1838.6,952.9 1840.6,952.8 1842.7,952.8 1844.8,952.8 1846.9,952.7 1849.0,952.7 1851.1,952.6 1853.2,952.6 1855.3,952.5 1857.4,952.5 1859.5,952.4 1861.7,952.4 1863.8,952.3 1865.9,952.3 1868.0,952.2 1870.1,952.2 1872.3,952.1 1874.4,952.1 1876.5,952.0 1878.6,952.0 1880.7,951.9 1882.7,951.9 1884.8,951.8 1886.9,951.8 1888.9,951.7 1891.0,951.7 1893.0,951.7 1895.0,951.6 1897.0,951.6 1899.0,951.5 1901.0,951.5 1903.0,951.5 1904.9,951.5 1906.8,951.4 1908.7,951.4 1910.5,951.4 1912.3,951.4 1914.0,951.4 1915.6,951.4 1917.2,951.4 1918.8,951.4 1920.4,951.4 1922.0,951.4 1924.5,951.5 1927.2,951.5 1929.8,951.5 1932.4,951.6 1934.9,951.7 1937.2,951.8 1939.5,951.8 1941.7,951.9 1943.9,952.0 1946.0,952.1 1948.1,952.2 1950.1,952.4 1952.2,952.5 1954.2,952.6 1956.1,952.7 1958.1,952.8 1960.0,953.0 1961.9,953.1 1963.8,953.2 1965.6,953.3 1967.5,953.4 1969.3,953.6 1971.1,953.7 1972.8,953.8 1974.5,953.9 1976.2,954.0 1977.8,954.1 1979.4,954.2 1981.1,954.3 1982.7,954.4 1984.8,954.5 1987.2,954.6 1989.8,954.8 1992.5,954.9 1995.1,955.0 1997.6,955.2 2000.2,955.3 2002.6,955.4 2005.0,955.5 2007.4,955.7 2009.8,955.8 2012.1,955.9 2014.3,956.0 2016.5,956.1 2018.4,956.2 2020.1,956.3 2021.6,956.4 2022.8,956.4 2023.8,956.5 2024.6,956.5 2025.2,956.6 2025.7,956.6 2030.0,956.8" stroke="#fcc200" stroke-width="4.8"/>
<path d="M188.0,1140.5L191.6,1140.9 192.2,1140.9 193.0,1141.0 194.1,1141.2 195.6,1141.3 197.4,1141.5 199.6,1141.7 201.9,1142.0 204.4,1142.3 206.9,1142.5 209.4,1142.8 211.9,1143.0 214.2,1143.3 216.5,1143.5 218.6,1143.7 220.6,1143.9 222.6,1144.1 224.6,1144.3 226.6,1144.5 228.7,1144.7 230.7,1144.9 232.7,1145.1 234.7,1145.3 236.7,1145.5 238.6,1145.7 240.6,1145.8 242.6,1146.0 244.6,1146.2 246.6,1146.3 248.6,1146.4 250.6,1146.5 252.6,1146.7 254.6,1146.7 256.7,1146.8 258.7,1146.9 260.7,1146.9 262.7,1147.0 264.7,1147.0 266.8,1147.0 268.8,1147.1 270.8,1147.1 272.8,1147.1 274.9,1147.2 276.9,1147.3 278.9,1147.4 281.0,1147.5 283.0,1147.6 285.0,1147.7 286.9,1147.8 288.7,1148.0 290.6,1148.1 292.5,1148.3 294.4,1148.5 296.2,1148.6 298.2,1148.8 300.2,1149.0 302.2,1149.2 304.4,1149.4 306.7,1149.6 309.0,1149.8 311.3,1150.0 313.1,1150.1 314.9,1150.3 316.8,1150.4 318.8,1150.6 320.9,1150.8 323.0,1150.9 325.2,1151.1 327.5,1151.3 329.8,1151.5 332.1,1151.6 334.3,1151.8 336.6,1152.0 338.8,1152.1 340.9,1152.3 342.9,1152.4 344.7,1152.5 346.4,1152.7 348.1,1152.8 349.7,1152.9 351.2,1153.0 354.3,1153.2 357.0,1153.3 359.2,1153.4 361.0,1153.5 362.6,1153.6 364.1,1153.6 365.6,1153.6 367.3,1153.6 369.2,1153.6 371.5,1153.5 373.3,1153.5 375.2,1153.4 377.2,1153.3 379.2,1153.1 381.3,1153.0 383.5,1152.8 385.8,1152.7 388.0,1152.5 390.2,1152.3 392.3,1152.1 394.4,1151.9 396.3,1151.7 398.1,1151.6 400.0,1151.4 402.3,1151.2 404.5,1151.0 406.7,1150.8 408.7,1150.6 410.7,1150.4 412.5,1150.3 414.3,1150.1 416.2,1149.9 418.0,1149.6 420.0,1149.4 422.0,1149.1 424.0,1148.8 426.1,1148.5 428.1,1148.2 430.2,1147.9 432.2,1147.5 434.2,1147.2 436.2,1146.8 438.2,1146.4 440.3,1146.0 442.3,1145.6 444.3,1145.1 446.3,1144.6 448.3,1144.2 450.3,1143.7 452.3,1143.1 454.3,1142.6 456.3,1142.0 458.4,1141.4 460.4,1140.7 462.5,1140.0 464.4,1139.4 466.2,1138.7 468.0,1138.0 469.8,1137.3 471.6,1136.5 473.5,1135.7 475.3,1134.9 477.1,1134.0 479.0,1133.1 480.8,1132.2 482.7,1131.2 484.5,1130.2 486.2,1129.3 488.0,1128.2 489.8,1127.1 491.7,1125.9 493.6,1124.7 495.5,1123.5 497.3,1122.2 499.0,1121.1 500.6,1120.0 502.1,1118.9 503.5,1118.0 504.9,1117.0 506.8,1115.7 509.1,1114.1 510.9,1112.9 512.5,1111.8 513.9,1110.8 515.4,1109.7 517.0,1108.5 518.8,1107.3 520.7,1105.9 522.6,1104.7 524.4,1103.5 526.2,1102.4 528.1,1101.4 530.0,1100.5 531.8,1099.7 533.7,1098.9 535.5,1098.2 537.4,1097.5 539.3,1096.8 541.2,1096.1 543.1,1095.5 545.0,1094.8 546.9,1094.2 549.0,1093.6 551.1,1093.0 553.3,1092.4 555.4,1091.9 557.6,1091.5 559.7,1091.0 561.8,1090.7 563.9,1090.3 566.0,1090.0 568.1,1089.6 570.2,1089.3 572.4,1088.9 574.5,1088.5 576.6,1088.1 578.7,1087.8 580.8,1087.5 582.9,1087.3 585.0,1087.1 587.1,1087.0 589.2,1086.9 591.4,1086.8 593.7,1086.7 595.9,1086.6 598.1,1086.6 600.1,1086.5 602.0,1086.5 603.6,1086.5 605.2,1086.5 607.2,1086.4 610.0,1086.4 611.5,1086.3 613.2,1086.2 615.0,1086.0 616.9,1085.9 619.0,1085.7 621.3,1085.4 623.6,1085.2 625.9,1084.9 628.1,1084.6 630.2,1084.4 632.2,1084.1 634.2,1083.8 636.2,1083.5 638.2,1083.2 640.2,1082.9 642.2,1082.6 644.2,1082.3 646.3,1082.0 648.3,1081.7 650.3,1081.4 652.3,1081.1 654.3,1080.9 656.3,1080.7 658.3,1080.4 660.4,1080.2 662.4,1080.0 664.4,1079.8 666.4,1079.6 668.4,1079.5 670.4,1079.3 672.4,1079.1 674.4,1078.9 676.4,1078.8 678.4,1078.6 680.5,1078.5 682.5,1078.3 684.5,1078.2 686.5,1078.0 688.5,1077.9 690.6,1077.7 692.6,1077.5 694.6,1077.4 696.6,1077.2 698.6,1077.0 700.6,1076.8 702.6,1076.6 704.7,1076.3 706.7,1076.1 708.7,1075.9 710.7,1075.8 712.6,1075.6 714.6,1075.4 716.7,1075.3 718.7,1075.2 720.8,1075.1 723.0,1075.0 725.1,1075.0 727.2,1074.9 729.3,1074.9 731.2,1074.8 733.1,1074.8 734.9,1074.8 736.7,1074.8 739.2,1074.8 741.6,1074.8 744.0,1074.9 746.1,1075.0 748.1,1075.1 749.9,1075.2 751.7,1075.4 753.8,1075.7 756.2,1076.2 758.3,1076.7 760.3,1077.2 762.3,1077.8 764.3,1078.4 766.2,1079.1 768.1,1079.8 770.0,1080.6 771.9,1081.5 773.8,1082.4 775.6,1083.3 777.3,1084.3 779.1,1085.3 780.9,1086.3 782.6,1087.4 784.4,1088.5 786.2,1089.5 787.9,1090.6 789.7,1091.7 791.5,1092.8 793.2,1093.8 795.0,1094.9 796.8,1096.0 798.5,1097.0 800.3,1098.1 802.0,1099.1 803.8,1100.1 805.6,1101.1 807.5,1102.1 809.5,1103.2 811.4,1104.2 813.4,1105.1 815.3,1106.0 817.3,1106.9 819.2,1107.7 821.1,1108.5 823.0,1109.2 824.9,1109.9 826.7,1110.5 828.9,1111.2 830.9,1111.7 833.0,1112.2 835.0,1112.7 837.0,1113.0 838.9,1113.2 840.8,1113.4 842.9,1113.5 845.2,1113.6 847.3,1113.5 849.0,1113.4 850.7,1113.3 852.5,1113.1 854.5,1112.8 856.6,1112.5 858.9,1112.2 861.2,1111.8 863.3,1111.5 865.1,1111.2 866.9,1110.9 868.9,1110.5 870.9,1110.2 873.0,1109.8 875.1,1109.4 877.2,1109.1 879.4,1108.7 881.4,1108.3 883.5,1108.0 885.5,1107.7 887.5,1107.4 889.5,1107.1 891.5,1106.9 893.5,1106.6 895.5,1106.4 897.6,1106.1 899.6,1105.9 901.6,1105.7 903.6,1105.5 905.6,1105.4 907.6,1105.3 909.6,1105.2 911.6,1105.1 913.7,1105.0 915.7,1105.0 917.7,1104.9 919.7,1104.9 921.7,1104.9 923.7,1104.8 925.7,1104.8 927.7,1104.8 929.7,1104.8 931.7,1104.7 933.8,1104.7 935.8,1104.7 937.8,1104.7 939.8,1104.7 941.9,1104.7 943.9,1104.8 945.9,1104.8 947.9,1104.9 949.9,1105.0 951.9,1105.1 953.9,1105.2 955.9,1105.3 958.0,1105.4 960.0,1105.5 962.0,1105.6 964.0,1105.7 966.0,1105.8 968.0,1105.8 970.0,1105.8 972.0,1105.7 974.0,1105.6 976.1,1105.5 978.1,1105.4 980.1,1105.3 982.1,1105.2 984.2,1105.1 986.2,1105.0 988.2,1104.9 990.2,1104.8 992.2,1104.8 994.3,1104.7 996.3,1104.7 998.3,1104.7 1000.4,1104.7 1002.4,1104.7 1004.3,1104.7 1006.3,1104.8 1008.2,1104.8 1010.2,1104.8 1012.3,1104.9 1014.6,1105.0 1016.8,1105.1 1019.1,1105.2 1021.2,1105.3 1023.3,1105.3 1025.3,1105.4 1027.2,1105.5 1029.1,1105.5 1031.2,1105.5 1033.5,1105.5 1035.6,1105.5 1037.6,1105.4 1039.5,1105.4 1041.4,1105.3 1043.3,1105.2 1045.4,1105.1 1047.4,1105.0 1049.5,1104.9 1051.6,1104.8 1053.6,1104.7 1055.7,1104.7 1057.8,1104.6 1059.8,1104.6 1061.9,1104.6 1064.0,1104.7 1066.0,1104.8 1068.1,1104.9 1070.2,1105.0 1072.3,1105.2 1074.3,1105.4 1076.4,1105.5 1078.5,1105.8 1080.5,1106.0 1082.6,1106.2 1084.6,1106.4 1086.7,1106.5 1088.7,1106.7 1090.8,1106.8 1092.8,1106.9 1094.9,1107.0 1096.9,1107.0 1099.0,1107.0 1101.0,1107.0 1103.1,1107.0 1105.2,1107.0 1107.4,1106.9 1109.6,1106.8 1111.7,1106.6 1113.7,1106.5 1115.6,1106.3 1117.7,1106.0 1119.7,1105.7 1121.6,1105.4 1123.4,1105.0 1125.2,1104.6 1127.1,1104.1 1129.1,1103.4 1131.2,1102.7 1133.3,1101.8 1135.3,1100.9 1137.1,1099.9 1138.8,1098.8 1140.5,1097.6 1142.1,1096.3 1143.7,1094.9 1145.2,1093.2 1146.5,1091.8 1147.7,1090.2 1149.0,1088.5 1150.2,1086.8 1151.3,1085.0 1152.3,1083.2 1153.3,1081.2 1154.2,1079.3 1155.1,1077.3 1155.8,1075.3 1156.5,1073.3 1157.1,1071.3 1157.7,1069.3 1158.3,1067.4 1158.8,1065.4 1159.3,1063.5 1159.8,1061.6 1160.2,1059.6 1160.6,1057.8 1161.0,1055.9 1161.4,1053.9 1161.7,1051.9 1162.1,1049.8 1162.4,1047.7 1162.7,1045.6 1163.0,1043.4 1163.3,1041.3 1163.6,1039.1 1164.0,1037.0 1164.2,1035.2 1164.5,1033.5 1164.8,1031.8 1165.1,1029.9 1165.4,1027.5 1165.8,1024.9 1166.0,1023.2 1166.3,1021.6 1166.5,1019.8 1166.7,1018.0 1167.0,1016.1 1167.2,1014.1 1167.5,1011.9 1167.8,1009.5 1168.1,1007.0 1168.3,1004.5 1168.6,1002.1 1168.8,1000.4 1168.9,998.6 1169.1,996.8 1169.3,994.9 1169.4,992.9 1169.6,990.9 1169.8,988.8 1170.0,986.6 1170.1,984.5 1170.3,982.3 1170.5,980.1 1170.6,978.0 1170.8,975.9 1170.9,973.8 1171.1,971.7 1171.2,969.7 1171.4,967.7 1171.5,965.7 1171.7,963.6 1171.8,961.6 1172.0,959.6 1172.1,957.5 1172.2,955.5 1172.4,953.4 1172.5,951.4 1172.7,949.4 1172.8,947.3 1172.9,945.3 1173.1,943.3 1173.2,941.2 1173.3,939.2 1173.5,937.1 1173.6,935.0 1173.8,932.9 1173.9,930.8 1174.1,928.7 1174.2,926.6 1174.3,924.5 1174.5,922.4 1174.6,920.3 1174.7,918.3 1174.9,916.4 1175.0,914.4 1175.1,912.5 1175.2,910.6 1175.3,908.4 1175.4,906.2 1175.5,904.2 1175.6,902.2 1175.7,900.3 1175.7,898.4 1175.8,896.6 1175.9,894.7 1175.9,892.7 1176.0,890.6 1176.1,888.4 1176.2,886.1 1176.2,884.1 1176.3,882.2 1176.3,880.2 1176.4,878.2 1176.4,876.1 1176.5,873.9 1176.5,871.7 1176.6,869.4 1176.7,867.1 1176.7,864.9 1176.8,862.7 1176.8,860.6 1176.9,858.6 1176.9,856.7 1177.0,854.9 1177.1,853.2 1177.2,851.0 1177.3,848.4 1177.5,846.0 1177.6,843.7 1177.8,841.6 1177.9,839.6 1178.0,837.8 1178.2,836.1 1178.3,834.3 1178.4,832.5 1178.6,830.7 1178.7,828.5 1178.9,826.2 1179.1,824.0 1179.2,821.9 1179.4,819.9 1179.5,818.0 1179.7,816.2 1179.9,814.4 1180.1,812.6 1180.3,810.2 1180.6,807.9 1180.9,805.6 1181.3,803.5 1181.6,801.6 1181.9,799.8 1182.2,798.2 1182.7,795.4 1183.2,793.1 1183.7,791.0 1184.2,789.4 1185.3,787.1 1186.8,787.6 1188.1,789.3 1188.9,791.5 1189.3,793.1 1189.7,795.0 1190.0,797.1 1190.4,799.3 1190.8,801.7 1191.1,803.5 1191.4,805.4 1191.7,807.5 1192.0,809.6 1192.4,811.8 1192.7,813.9 1193.0,816.0 1193.3,818.1 1193.6,820.2 1193.9,822.2 1194.3,824.3 1194.6,826.4 1194.9,828.4 1195.2,830.5 1195.5,832.6 1195.8,834.6 1196.1,836.7 1196.4,838.7 1196.7,840.8 1197.0,842.9 1197.3,844.9 1197.6,846.9 1197.9,849.0 1198.2,851.0 1198.5,853.0 1198.8,855.1 1199.2,857.2 1199.5,859.3 1199.9,861.3 1200.2,863.3 1200.6,865.3 1201.0,867.5 1201.4,869.7 1201.8,872.0 1202.3,874.2 1202.7,876.2 1203.0,877.8 1203.3,879.3 1203.6,880.7 1203.9,882.2 1204.2,884.0 1204.6,886.1 1205.1,888.7 1205.5,891.8 1205.9,894.1 1206.1,895.6 1206.3,897.2 1206.5,898.9 1206.8,900.8 1207.0,902.8 1207.3,904.9 1207.5,907.2 1207.8,909.5 1208.1,911.8 1208.3,914.2 1208.6,916.5 1208.9,918.8 1209.1,921.0 1209.4,923.0 1209.6,924.9 1209.8,926.7 1210.1,928.3 1210.3,929.9 1210.6,932.2 1211.1,935.0 1211.6,937.6 1212.0,939.8 1212.4,941.7 1212.8,943.4 1213.1,945.1 1213.5,946.7 1213.8,948.4 1214.2,950.2 1214.6,952.2 1215.1,954.3 1215.5,956.4 1215.9,958.5 1216.3,960.6 1216.7,962.6 1217.1,964.7 1217.5,966.7 1218.0,968.8 1218.4,970.8 1218.9,972.8 1219.3,974.8 1219.8,976.8 1220.3,978.8 1220.8,980.9 1221.3,982.9 1221.8,984.9 1222.3,986.8 1222.8,988.6 1223.2,990.4 1223.7,992.1 1224.4,994.3 1225.0,996.4 1225.7,998.4 1226.3,1000.3 1226.9,1002.1 1227.5,1003.8 1228.1,1005.6 1228.8,1007.5 1229.5,1009.4 1230.2,1011.4 1231.0,1013.5 1231.8,1015.4 1232.6,1017.4 1233.4,1019.3 1234.2,1021.1 1235.0,1022.9 1236.0,1024.8 1237.0,1026.7 1238.0,1028.5 1239.0,1030.2 1240.0,1031.8 1241.0,1033.4 1242.1,1034.9 1243.3,1036.7 1244.7,1038.6 1246.1,1040.3 1247.5,1041.8 1248.8,1043.1 1250.1,1044.2 1252.2,1045.6 1254.2,1046.6 1256.3,1047.1 1258.4,1047.3 1260.4,1047.1 1262.5,1046.5 1264.6,1045.7 1266.6,1044.8 1268.5,1043.8 1270.5,1042.6 1272.5,1041.3 1274.3,1040.3 1276.0,1039.6 1278.2,1039.0 1280.0,1038.5 1281.9,1038.2 1284.0,1038.1 1286.2,1038.1 1288.2,1038.4 1290.3,1038.8 1292.4,1039.6 1294.2,1040.6 1296.0,1041.8 1297.8,1043.3 1299.3,1044.9 1300.5,1046.3 1301.7,1047.8 1303.0,1049.6 1304.2,1051.5 1305.3,1053.3 1306.4,1055.1 1307.4,1056.9 1308.5,1058.7 1309.6,1060.6 1310.6,1062.5 1311.7,1064.4 1312.8,1066.3 1313.9,1068.2 1315.0,1070.1 1316.0,1072.0 1317.1,1073.9 1318.2,1075.7 1319.2,1077.4 1320.3,1079.2 1321.3,1080.8 1322.3,1082.5 1323.3,1084.2 1324.4,1085.9 1325.4,1087.6 1326.5,1089.4 1327.7,1091.2 1328.8,1092.9 1329.9,1094.6 1330.9,1096.1 1332.2,1097.9 1333.4,1099.5 1334.6,1101.0 1335.8,1102.5 1337.1,1104.0 1338.5,1105.6 1339.9,1107.2 1341.3,1108.8 1342.8,1110.4 1344.2,1112.0 1345.6,1113.4 1347.1,1114.9 1348.5,1116.3 1350.0,1117.8 1351.5,1119.1 1353.1,1120.5 1354.7,1121.8 1356.2,1123.1 1357.8,1124.3 1359.4,1125.5 1361.2,1126.8 1363.0,1128.1 1364.7,1129.3 1366.5,1130.5 1368.2,1131.6 1370.0,1132.7 1371.7,1133.7 1373.4,1134.7 1375.1,1135.7 1377.2,1136.8 1379.2,1137.8 1381.3,1138.8 1383.3,1139.7 1385.3,1140.6 1387.3,1141.4 1389.3,1142.2 1391.2,1142.9 1393.2,1143.6 1395.1,1144.2 1397.1,1144.7 1399.1,1145.3 1401.0,1145.7 1403.0,1146.2 1405.0,1146.6 1407.0,1147.1 1409.0,1147.5 1410.9,1148.0 1412.9,1148.5 1414.9,1148.9 1417.0,1149.4 1419.0,1149.8 1421.1,1150.2 1423.0,1150.5 1425.0,1150.9 1426.8,1151.2 1428.8,1151.5 1430.8,1151.8 1432.3,1152.0 1434.0,1152.2 1435.9,1152.5 1438.3,1152.9 1441.1,1153.4 1442.8,1153.7 1444.5,1154.0 1446.3,1154.4 1448.2,1154.8 1450.3,1155.2 1452.6,1155.7 1454.8,1156.2 1457.1,1156.7 1459.3,1157.3 1461.4,1157.8 1463.4,1158.4 1465.3,1158.9 1467.1,1159.5 1469.0,1160.0 1470.9,1160.6 1472.8,1161.3 1474.7,1161.9 1476.6,1162.5 1478.6,1163.2 1480.5,1163.9 1482.4,1164.6 1484.3,1165.3 1486.2,1166.0 1488.2,1166.8 1490.1,1167.5 1492.0,1168.3 1494.0,1169.1 1495.9,1169.9 1497.9,1170.6 1499.8,1171.4 1501.8,1172.2 1503.7,1172.9 1505.6,1173.6 1507.5,1174.3 1509.4,1175.0 1511.3,1175.7 1513.2,1176.4 1515.2,1177.0 1517.1,1177.7 1519.0,1178.3 1520.9,1179.0 1522.8,1179.7 1524.7,1180.4 1526.6,1181.1 1528.6,1181.8 1530.5,1182.5 1532.4,1183.3 1534.4,1184.0 1536.3,1184.7 1538.2,1185.5 1540.2,1186.2 1542.1,1186.9 1544.1,1187.6 1546.0,1188.3 1547.9,1189.0 1549.8,1189.7 1551.7,1190.4 1553.6,1191.0 1555.6,1191.6 1557.5,1192.3 1559.4,1192.9 1561.3,1193.5 1563.2,1194.1 1565.1,1194.6 1567.0,1195.2 1569.0,1195.7 1571.0,1196.2 1573.0,1196.8 1575.1,1197.3 1577.1,1197.7 1579.1,1198.2 1581.2,1198.6 1583.2,1199.1 1585.2,1199.5 1587.2,1199.9 1589.2,1200.3 1591.2,1200.6 1593.3,1201.0 1595.3,1201.3 1597.3,1201.6 1599.4,1202.0 1601.4,1202.2 1603.4,1202.5 1605.4,1202.8 1607.3,1203.1 1609.3,1203.4 1611.3,1203.6 1613.4,1203.9 1615.5,1204.2 1617.6,1204.5 1619.7,1204.8 1621.7,1205.0 1623.7,1205.2 1625.8,1205.5 1627.9,1205.6 1630.1,1205.8 1632.0,1205.9 1634.0,1206.0 1635.9,1206.0 1637.9,1206.1 1639.9,1206.1 1642.0,1206.1 1644.0,1206.2 1646.0,1206.2 1648.1,1206.3 1650.1,1206.4 1652.1,1206.6 1654.1,1206.8 1656.1,1207.0 1658.1,1207.3 1660.2,1207.6 1662.2,1207.9 1664.2,1208.2 1666.2,1208.6 1668.3,1208.9 1670.3,1209.3 1672.3,1209.6 1674.3,1210.0 1676.3,1210.3 1678.3,1210.7 1680.3,1211.1 1682.3,1211.5 1684.3,1211.9 1686.3,1212.3 1688.3,1212.7 1690.3,1213.2 1692.3,1213.6 1694.4,1214.1 1696.4,1214.6 1698.4,1215.1 1700.4,1215.7 1702.5,1216.2 1704.5,1216.8 1706.5,1217.4 1708.6,1217.9 1710.6,1218.5 1712.6,1219.0 1714.6,1219.6 1716.6,1220.1 1718.6,1220.7 1720.6,1221.2 1722.7,1221.8 1724.7,1222.3 1726.7,1222.8 1728.7,1223.3 1730.7,1223.8 1732.7,1224.2 1734.7,1224.6 1736.8,1225.0 1738.8,1225.3 1740.8,1225.5 1742.8,1225.8 1744.8,1226.0 1746.8,1226.2 1748.8,1226.4 1750.9,1226.5 1752.9,1226.7 1754.9,1226.9 1756.9,1227.0 1758.9,1227.1 1760.9,1227.3 1762.9,1227.4 1764.9,1227.5 1767.0,1227.7 1769.0,1227.8 1771.0,1227.8 1773.0,1227.9 1775.0,1228.0 1777.0,1228.0 1779.0,1228.0 1781.0,1228.0 1783.0,1228.0 1785.1,1227.9 1787.1,1227.8 1789.1,1227.8 1791.1,1227.7 1793.2,1227.7 1795.2,1227.7 1797.2,1227.7 1799.2,1227.8 1801.2,1227.9 1803.2,1228.0 1805.2,1228.2 1807.2,1228.5 1809.2,1228.7 1811.3,1229.0 1813.3,1229.3 1815.3,1229.5 1817.3,1229.8 1819.3,1230.0 1821.3,1230.2 1823.3,1230.4 1825.4,1230.6 1827.5,1230.8 1829.6,1231.0 1831.6,1231.1 1833.7,1231.3 1835.7,1231.4 1837.6,1231.5 1839.6,1231.7 1841.4,1231.8 1843.6,1231.9 1845.6,1232.1 1847.4,1232.2 1849.2,1232.3 1851.1,1232.4 1853.1,1232.4 1855.5,1232.5 1858.1,1232.6 1860.3,1232.7 1862.0,1232.8 1863.7,1232.8 1865.4,1232.9 1867.2,1232.9 1869.0,1232.9 1871.0,1233.0 1873.1,1233.0 1875.3,1233.0 1877.5,1233.1 1879.9,1233.1 1882.3,1233.1 1884.7,1233.2 1887.2,1233.2 1889.2,1233.2 1891.0,1233.2 1892.8,1233.2 1894.7,1233.2 1896.8,1233.2 1898.9,1233.2 1901.1,1233.2 1903.4,1233.2 1905.7,1233.2 1908.0,1233.2 1910.3,1233.2 1912.5,1233.2 1914.7,1233.2 1916.8,1233.2 1918.8,1233.2 1920.6,1233.2 1922.3,1233.2 1924.0,1233.2 1925.7,1233.2 1928.0,1233.3 1930.6,1233.4 1932.7,1233.5 1934.4,1233.5 1935.8,1233.6 1937.1,1233.7 1938.6,1233.8 1940.5,1233.9 1942.9,1234.0 1945.8,1234.1 1947.5,1234.1 1949.0,1234.2 1950.7,1234.2 1952.3,1234.2 1954.1,1234.2 1955.9,1234.3 1957.9,1234.3 1959.9,1234.3 1962.0,1234.4 1964.1,1234.4 1966.3,1234.4 1968.5,1234.4 1970.7,1234.5 1973.0,1234.5 1975.3,1234.5 1977.6,1234.5 1979.8,1234.6 1982.1,1234.6 1984.3,1234.6 1986.1,1234.6 1988.1,1234.6 1990.1,1234.7 1992.3,1234.7 1994.6,1234.7 1996.9,1234.7 1999.3,1234.8 2001.8,1234.8 2004.2,1234.8 2006.7,1234.9 2009.1,1234.9 2011.5,1234.9 2013.9,1234.9 2016.2,1235.0 2018.4,1235.0 2020.4,1235.0 2022.1,1235.0 2023.5,1235.0 2024.6,1235.0 2025.5,1235.1 2026.1,1235.1 2026.6,1235.1 2030.0,1235.1" stroke="#2459a0" stroke-width="4.8"/>
<path d="M188.0,1348.6L190.0,1348.8 190.9,1348.8 192.3,1348.9 194.3,1349.1 196.6,1349.3 199.0,1349.4 201.4,1349.6 203.8,1349.8 206.2,1349.9 208.4,1350.1 210.4,1350.2 212.4,1350.3 214.5,1350.4 216.5,1350.5 218.6,1350.5 220.6,1350.6 222.5,1350.7 224.5,1350.7 226.5,1350.8 228.5,1350.9 230.5,1351.0 232.5,1351.2 234.4,1351.3 236.2,1351.5 238.0,1351.7 239.8,1351.9 241.7,1352.1 243.7,1352.3 245.8,1352.4 248.3,1352.6 250.8,1352.7 252.5,1352.7 254.1,1352.8 256.0,1352.8 258.0,1352.9 260.0,1352.9 262.1,1352.9 264.3,1352.9 266.4,1352.9 268.6,1352.9 270.7,1352.9 272.9,1352.9 275.0,1352.9 277.0,1352.8 278.9,1352.8 280.8,1352.7 283.0,1352.6 285.3,1352.4 287.6,1352.3 289.8,1352.1 292.1,1351.9 294.3,1351.6 296.4,1351.4 298.5,1351.2 300.5,1351.0 302.4,1350.9 304.0,1350.8 305.6,1350.7 307.1,1350.8 309.8,1351.0 310.8,1351.2 311.6,1351.4 313.1,1351.7 317.6,1352.2 318.9,1352.3 320.2,1352.3 321.7,1352.4 323.6,1352.4 325.7,1352.4 327.9,1352.4 330.1,1352.4 332.5,1352.3 334.8,1352.3 337.2,1352.3 339.6,1352.2 341.9,1352.2 344.2,1352.1 346.5,1352.1 348.7,1352.0 350.6,1351.9 352.4,1351.8 353.8,1351.7 355.1,1351.6 358.7,1351.2 361.5,1350.6 363.6,1350.1 365.2,1349.6 366.7,1349.1 368.1,1348.7 369.7,1348.2 371.5,1347.7 373.6,1347.3 375.9,1346.9 378.1,1346.5 380.2,1346.1 382.4,1345.8 384.3,1345.4 386.1,1345.0 387.8,1344.5 390.0,1343.7 391.9,1342.8 393.5,1342.0 395.1,1341.1 397.0,1340.0 398.9,1339.1 400.5,1338.3 402.1,1337.5 403.9,1336.7 405.7,1335.9 407.8,1335.0 410.0,1334.2 412.3,1333.5 414.0,1333.1 415.7,1332.7 417.6,1332.3 419.7,1332.0 421.8,1331.7 423.9,1331.4 426.1,1331.0 428.2,1330.7 430.3,1330.4 432.3,1330.0 434.3,1329.6 436.3,1329.1 438.4,1328.7 440.4,1328.2 442.4,1327.7 444.4,1327.3 446.5,1326.8 448.5,1326.3 450.5,1325.9 452.5,1325.4 454.5,1325.0 456.5,1324.6 458.5,1324.2 460.5,1323.8 462.6,1323.4 464.6,1323.0 466.6,1322.6 468.6,1322.2 470.6,1321.8 472.6,1321.4 474.6,1321.0 476.6,1320.5 478.5,1320.1 480.4,1319.7 482.3,1319.3 484.2,1318.9 486.2,1318.5 488.3,1318.1 490.6,1317.7 492.9,1317.3 494.7,1317.0 496.6,1316.8 498.6,1316.5 500.8,1316.3 503.0,1316.0 505.2,1315.8 507.5,1315.6 509.7,1315.4 511.8,1315.2 513.9,1315.0 515.7,1314.9 517.3,1314.8 518.9,1314.8 521.8,1314.8 524.1,1314.9 525.8,1315.1 527.4,1315.3 529.0,1315.5 530.9,1315.7 533.2,1315.8 535.0,1315.8 536.8,1315.7 538.7,1315.6 540.8,1315.5 542.9,1315.3 545.0,1315.1 547.2,1315.0 549.3,1314.9 551.4,1314.8 553.4,1314.7 555.4,1314.8 557.5,1314.8 559.5,1314.9 561.6,1315.1 563.7,1315.2 565.8,1315.4 567.8,1315.5 569.7,1315.7 571.6,1315.8 573.5,1315.9 575.7,1315.9 577.7,1315.9 579.4,1315.8 581.0,1315.8 582.7,1315.8 584.7,1315.8 587.3,1316.0 590.3,1316.4 591.8,1316.7 593.3,1317.0 595.1,1317.4 597.0,1317.8 599.2,1318.4 601.3,1318.9 603.5,1319.5 605.7,1320.1 607.9,1320.7 610.1,1321.2 612.2,1321.7 614.3,1322.2 616.2,1322.6 617.8,1323.0 619.4,1323.2 621.6,1323.4 624.2,1323.5 626.0,1323.3 627.4,1323.1 628.7,1322.9 630.2,1322.7 632.2,1322.5 635.1,1322.4 637.5,1322.5 638.9,1322.7 640.4,1322.8 642.2,1323.1 644.1,1323.3 646.2,1323.6 648.3,1323.9 650.4,1324.2 652.6,1324.6 654.8,1324.9 657.1,1325.3 659.3,1325.6 661.5,1326.0 663.7,1326.3 665.8,1326.7 667.8,1327.0 669.7,1327.3 671.7,1327.5 673.9,1327.8 676.0,1328.1 678.1,1328.4 680.1,1328.7 682.1,1329.0 684.1,1329.2 686.1,1329.5 688.1,1329.8 690.1,1330.0 692.0,1330.3 694.0,1330.6 696.0,1330.8 698.0,1331.1 700.0,1331.4 702.0,1331.6 704.0,1331.9 706.1,1332.2 708.1,1332.4 710.1,1332.7 712.1,1332.9 714.1,1333.2 716.2,1333.4 718.2,1333.7 720.2,1334.0 722.2,1334.2 724.2,1334.5 726.3,1334.8 728.3,1335.1 730.3,1335.4 732.3,1335.7 734.3,1336.0 736.3,1336.3 738.4,1336.6 740.4,1336.9 742.4,1337.2 744.4,1337.5 746.4,1337.9 748.4,1338.2 750.4,1338.5 752.4,1338.9 754.4,1339.2 756.5,1339.6 758.5,1340.0 760.4,1340.3 762.4,1340.7 764.5,1341.1 766.7,1341.5 769.0,1341.9 771.2,1342.4 773.5,1342.8 775.7,1343.3 778.0,1343.8 780.2,1344.2 782.3,1344.6 784.4,1345.1 786.3,1345.5 788.0,1345.8 789.4,1346.1 790.7,1346.4 793.6,1347.0 796.6,1347.8 798.0,1348.1 799.1,1348.3 800.6,1348.4 802.7,1348.4 804.3,1348.2 806.1,1348.0 807.9,1347.6 809.9,1347.2 812.0,1346.8 814.4,1346.5 816.9,1346.3 819.0,1346.3 820.7,1346.4 822.6,1346.5 824.8,1346.8 827.1,1347.0 829.4,1347.3 831.7,1347.7 834.0,1348.0 836.2,1348.3 838.2,1348.6 839.9,1348.7 841.4,1348.9 843.9,1349.0 846.3,1349.1 847.7,1349.0 848.9,1348.8 850.9,1348.5 853.2,1348.0 854.8,1347.6 856.6,1347.1 858.5,1346.5 860.7,1345.9 862.8,1345.3 865.1,1344.6 867.3,1344.0 869.5,1343.4 871.5,1342.9 873.5,1342.4 875.6,1341.9 877.6,1341.4 879.7,1340.9 881.8,1340.5 883.9,1340.0 886.0,1339.7 888.0,1339.4 889.9,1339.2 891.7,1339.0 893.8,1339.0 895.9,1339.2 897.8,1339.5 899.6,1339.9 901.4,1340.3 903.3,1340.7 905.4,1341.1 907.8,1341.4 909.9,1341.6 911.6,1341.6 913.4,1341.5 915.4,1341.4 917.5,1341.3 919.6,1341.2 921.8,1341.0 924.0,1340.9 926.1,1340.7 928.2,1340.6 930.2,1340.5 932.1,1340.5 934.2,1340.6 936.3,1340.7 938.3,1340.9 940.1,1341.1 941.9,1341.3 943.7,1341.5 945.5,1341.7 947.5,1342.0 949.7,1342.2 952.2,1342.5 954.3,1342.7 956.0,1342.8 957.8,1342.9 959.8,1343.0 962.0,1343.2 964.2,1343.3 966.4,1343.4 968.6,1343.5 970.9,1343.6 973.1,1343.7 975.2,1343.8 977.3,1343.9 979.2,1344.0 980.9,1344.1 982.4,1344.2 984.7,1344.2 987.5,1344.3 989.8,1344.3 991.6,1344.3 993.3,1344.2 995.0,1344.2 996.8,1344.3 998.8,1344.4 1000.9,1344.5 1002.8,1344.7 1004.7,1344.9 1006.8,1345.2 1008.8,1345.4 1010.9,1345.7 1013.0,1346.0 1015.1,1346.3 1017.2,1346.6 1019.1,1346.9 1021.2,1347.1 1023.4,1347.4 1025.7,1347.7 1028.0,1348.0 1030.3,1348.3 1032.5,1348.5 1034.7,1348.7 1036.6,1348.9 1038.2,1349.1 1039.8,1349.1 1042.9,1349.1 1045.2,1349.0 1046.8,1348.8 1048.5,1348.5 1050.5,1348.1 1052.5,1347.6 1054.5,1347.0 1056.4,1346.4 1058.3,1345.8 1060.2,1345.0 1062.3,1344.0 1064.4,1342.9 1066.3,1341.7 1068.0,1340.3 1069.4,1339.0 1070.8,1337.5 1072.0,1335.8 1073.2,1333.9 1074.1,1332.0 1074.7,1330.4 1075.4,1328.7 1076.0,1326.8 1076.5,1324.8 1077.1,1322.6 1077.6,1320.3 1078.0,1318.6 1078.3,1316.7 1078.6,1314.7 1078.9,1312.7 1079.2,1310.5 1079.5,1308.4 1079.8,1306.2 1080.1,1304.1 1080.4,1302.0 1080.6,1300.0 1080.8,1297.9 1081.1,1295.9 1081.3,1293.9 1081.5,1291.9 1081.6,1289.8 1081.8,1287.8 1082.0,1285.8 1082.2,1283.7 1082.4,1281.7 1082.6,1279.7 1082.8,1277.7 1083.0,1275.8 1083.1,1273.9 1083.3,1272.0 1083.5,1270.0 1083.7,1268.0 1083.9,1265.8 1084.2,1263.5 1084.4,1261.5 1084.6,1259.7 1084.8,1257.8 1085.1,1255.8 1085.3,1253.7 1085.6,1251.6 1085.8,1249.5 1086.1,1247.4 1086.3,1245.3 1086.6,1243.3 1086.8,1241.3 1087.1,1239.4 1087.3,1237.4 1087.6,1235.2 1087.9,1232.8 1088.2,1230.6 1088.5,1228.3 1088.7,1226.1 1089.0,1224.1 1089.3,1222.1 1089.6,1220.3 1089.8,1218.6 1090.1,1217.2 1090.9,1213.8 1091.8,1211.7 1092.6,1210.6 1093.5,1210.5 1094.5,1211.8 1095.4,1214.4 1096.1,1216.9 1096.4,1218.5 1096.7,1220.4 1097.1,1222.4 1097.4,1224.6 1097.8,1226.8 1098.1,1229.2 1098.5,1231.5 1098.8,1233.7 1099.1,1235.6 1099.4,1237.5 1099.7,1239.5 1100.0,1241.5 1100.3,1243.6 1100.6,1245.6 1100.9,1247.7 1101.2,1249.8 1101.5,1251.8 1101.9,1253.8 1102.2,1255.8 1102.5,1257.9 1102.8,1259.9 1103.1,1261.9 1103.4,1264.0 1103.7,1266.0 1104.0,1268.0 1104.3,1270.1 1104.6,1272.1 1104.9,1274.1 1105.2,1276.2 1105.5,1278.3 1105.8,1280.3 1106.1,1282.4 1106.4,1284.5 1106.7,1286.5 1107.0,1288.4 1107.3,1290.4 1107.7,1292.4 1108.1,1294.7 1108.5,1296.9 1109.0,1299.1 1109.4,1301.3 1109.8,1303.4 1110.3,1305.3 1110.8,1307.1 1111.3,1308.7 1112.2,1311.1 1113.2,1313.0 1114.2,1314.5 1115.4,1315.8 1116.9,1317.0 1118.8,1318.0 1120.9,1318.8 1123.0,1319.6 1124.7,1320.3 1126.9,1321.2 1128.8,1322.1 1130.6,1322.8 1132.7,1323.6 1135.0,1324.5 1137.2,1325.1 1139.3,1325.0 1141.2,1324.4 1143.1,1323.1 1144.7,1321.6 1145.9,1320.1 1147.2,1318.3 1148.5,1316.4 1149.7,1314.4 1150.8,1312.6 1151.9,1310.6 1153.0,1308.4 1154.0,1306.4 1154.9,1304.5 1155.7,1303.0 1157.3,1300.6 1158.6,1300.1 1159.7,1301.0 1160.8,1303.1 1161.6,1305.6 1162.1,1307.3 1162.6,1309.3 1163.1,1311.4 1163.6,1313.7 1164.2,1316.0 1164.7,1318.2 1165.3,1320.3 1165.9,1322.3 1166.5,1324.4 1167.2,1326.4 1167.8,1328.4 1168.5,1330.4 1169.1,1332.3 1169.8,1333.9 1170.5,1335.9 1171.5,1338.2 1172.4,1340.1 1173.4,1341.9 1174.4,1343.5 1175.6,1345.1 1177.1,1346.6 1178.7,1348.1 1180.4,1349.4 1182.0,1350.5 1183.7,1351.5 1185.6,1352.4 1187.3,1353.1 1189.2,1353.7 1191.3,1354.2 1193.6,1354.8 1196.1,1355.4 1198.3,1355.6 1200.0,1355.5 1201.6,1355.1 1203.2,1354.6 1205.7,1353.8 1207.2,1353.5 1209.0,1353.5 1211.0,1353.5 1213.3,1353.6 1215.7,1353.7 1218.2,1353.8 1220.4,1353.9 1222.5,1354.1 1224.5,1354.2 1226.5,1354.3 1228.5,1354.4 1230.5,1354.6 1232.6,1354.8 1235.0,1354.9 1237.5,1355.1 1239.2,1355.2 1241.0,1355.4 1242.9,1355.5 1244.9,1355.7 1247.0,1355.9 1249.1,1356.0 1251.2,1356.2 1253.3,1356.3 1255.4,1356.5 1257.4,1356.6 1259.4,1356.7 1261.4,1356.8 1263.6,1356.9 1265.8,1357.0 1268.0,1357.1 1270.1,1357.2 1272.2,1357.3 1274.3,1357.3 1276.1,1357.5 1277.8,1357.6 1279.3,1357.7 1282.1,1358.2 1284.5,1358.7 1286.4,1359.2 1288.2,1359.6 1290.1,1359.9 1292.3,1360.0 1294.2,1360.0 1296.1,1359.7 1298.1,1359.4 1300.3,1358.9 1302.4,1358.5 1304.7,1358.1 1307.1,1357.9 1309.1,1357.8 1311.0,1357.8 1313.0,1357.8 1315.2,1358.0 1317.5,1358.2 1319.7,1358.3 1321.8,1358.5 1323.7,1358.6 1325.4,1358.7 1327.0,1358.7 1329.9,1358.4 1332.2,1358.1 1334.0,1357.7 1335.7,1357.5 1337.7,1357.4 1339.7,1357.5 1341.5,1357.8 1343.5,1358.3 1345.9,1359.0 1348.5,1359.9 1350.0,1360.5 1351.5,1361.1 1353.2,1361.8 1355.0,1362.5 1356.9,1363.3 1358.9,1364.1 1361.0,1364.9 1363.2,1365.7 1365.2,1366.2 1367.0,1366.7 1368.9,1367.1 1371.0,1367.5 1373.1,1367.9 1375.3,1368.3 1377.5,1368.7 1379.6,1369.1 1381.6,1369.5 1383.4,1370.0 1385.2,1370.4 1387.5,1371.1 1389.7,1371.9 1391.8,1372.6 1393.7,1373.4 1395.6,1374.1 1397.5,1374.8 1399.3,1375.5 1401.2,1376.1 1403.2,1376.8 1405.2,1377.3 1407.1,1377.8 1409.0,1378.2 1410.9,1378.6 1412.9,1379.1 1414.8,1379.6 1416.8,1380.0 1418.8,1380.5 1421.0,1381.1 1423.2,1381.7 1425.3,1382.2 1427.4,1382.8 1429.2,1383.3 1430.8,1383.7 1432.9,1384.4 1435.2,1385.1 1436.9,1385.8 1438.4,1386.4 1440.0,1387.3 1441.7,1388.4 1443.5,1389.9 1445.2,1391.4 1446.9,1392.9 1448.5,1394.2 1449.9,1395.4 1451.3,1396.4 1453.0,1397.6 1455.1,1398.7 1456.7,1399.4 1458.3,1400.0 1460.2,1400.6 1462.3,1401.2 1464.4,1401.8 1466.6,1402.5 1468.8,1403.2 1470.6,1403.7 1472.4,1404.3 1474.2,1405.0 1476.1,1405.6 1478.1,1406.3 1480.2,1406.9 1482.4,1407.6 1484.7,1408.3 1486.5,1408.8 1488.3,1409.3 1490.2,1409.8 1492.2,1410.3 1494.3,1410.9 1496.4,1411.4 1498.5,1411.9 1500.6,1412.4 1502.7,1412.9 1504.7,1413.4 1506.7,1413.8 1508.7,1414.3 1510.7,1414.7 1512.8,1415.1 1514.8,1415.5 1516.8,1415.9 1518.8,1416.3 1520.9,1416.7 1522.9,1417.1 1524.9,1417.5 1526.9,1417.9 1528.9,1418.3 1530.9,1418.6 1532.9,1419.0 1534.9,1419.4 1537.0,1419.7 1539.0,1420.1 1541.0,1420.4 1543.0,1420.8 1545.0,1421.1 1547.0,1421.4 1549.0,1421.8 1551.0,1422.1 1553.0,1422.4 1555.1,1422.7 1557.1,1423.0 1559.1,1423.3 1561.1,1423.6 1563.2,1423.9 1565.2,1424.2 1567.2,1424.4 1569.2,1424.7 1571.2,1424.9 1573.2,1425.2 1575.3,1425.4 1577.3,1425.6 1579.3,1425.8 1581.4,1426.0 1583.4,1426.2 1585.4,1426.4 1587.3,1426.5 1589.3,1426.7 1591.3,1426.9 1593.5,1427.1 1595.6,1427.2 1597.6,1427.4 1599.6,1427.5 1601.7,1427.7 1603.7,1427.8 1605.8,1428.0 1607.9,1428.1 1610.1,1428.3 1612.0,1428.4 1613.9,1428.6 1615.9,1428.7 1617.9,1428.8 1619.9,1429.0 1622.0,1429.1 1624.0,1429.2 1626.0,1429.4 1628.1,1429.5 1630.1,1429.7 1632.1,1429.9 1634.1,1430.1 1636.2,1430.4 1638.3,1430.6 1640.4,1430.9 1642.5,1431.1 1644.6,1431.4 1646.6,1431.6 1648.5,1431.8 1650.3,1432.0 1652.1,1432.1 1654.5,1432.3 1657.1,1432.3 1659.5,1432.3 1661.8,1432.3 1664.0,1432.3 1665.9,1432.3 1667.5,1432.4 1668.9,1432.5 1672.1,1433.4 1673.8,1434.2 1675.4,1435.2 1676.8,1436.3 1678.4,1437.5 1680.7,1438.8 1682.9,1439.6 1684.3,1439.8 1686.0,1440.0 1688.0,1440.1 1690.2,1440.1 1692.5,1440.1 1694.8,1440.2 1697.0,1440.2 1699.0,1440.4 1701.0,1440.6 1703.0,1440.9 1704.8,1441.3 1706.7,1441.7 1708.5,1442.1 1710.4,1442.5 1712.4,1442.9 1714.6,1443.1 1716.6,1443.3 1718.5,1443.3 1720.5,1443.3 1722.7,1443.3 1724.9,1443.2 1727.2,1443.0 1729.5,1442.9 1731.6,1442.8 1733.5,1442.7 1735.2,1442.6 1736.7,1442.5 1739.7,1442.4 1741.8,1442.4 1743.3,1442.4 1745.1,1442.5 1747.4,1442.7 1749.1,1442.9 1750.9,1443.2 1752.9,1443.6 1755.0,1444.0 1757.1,1444.4 1759.2,1444.9 1761.3,1445.3 1763.3,1445.7 1765.3,1446.1 1767.4,1446.5 1769.5,1446.9 1771.7,1447.3 1773.7,1447.7 1775.7,1448.0 1777.4,1448.2 1779.1,1448.2 1781.6,1448.1 1783.6,1447.8 1785.3,1447.5 1787.3,1447.2 1789.8,1447.1 1791.5,1447.1 1793.3,1447.3 1795.2,1447.6 1797.4,1448.0 1799.5,1448.4 1801.7,1448.7 1803.7,1449.0 1805.6,1449.1 1807.7,1449.1 1809.7,1449.1 1811.5,1448.9 1813.3,1448.8 1815.3,1448.6 1817.6,1448.4 1820.1,1448.2 1821.8,1448.1 1823.7,1448.1 1825.9,1448.0 1828.2,1448.0 1830.6,1447.9 1832.9,1447.9 1835.2,1447.8 1837.2,1447.8 1838.9,1447.7 1840.4,1447.5 1842.6,1447.1 1843.5,1446.9 1846.6,1446.5 1847.9,1446.4 1849.3,1446.4 1850.8,1446.5 1852.6,1446.6 1854.6,1446.7 1856.8,1446.8 1859.0,1447.0 1861.3,1447.1 1863.6,1447.2 1866.0,1447.3 1868.4,1447.4 1870.8,1447.5 1873.1,1447.5 1874.9,1447.5 1876.8,1447.4 1878.7,1447.4 1880.8,1447.3 1882.9,1447.2 1885.0,1447.1 1887.2,1447.0 1889.3,1446.8 1891.4,1446.7 1893.6,1446.6 1895.7,1446.4 1897.7,1446.3 1899.8,1446.2 1901.7,1446.1 1903.6,1446.0 1905.6,1445.8 1907.9,1445.7 1910.1,1445.5 1912.1,1445.4 1914.2,1445.2 1916.2,1445.0 1918.2,1444.9 1920.1,1444.7 1922.1,1444.6 1924.0,1444.5 1926.0,1444.4 1928.0,1444.4 1930.0,1444.4 1932.0,1444.5 1934.0,1444.6 1936.1,1444.8 1938.2,1445.0 1940.3,1445.3 1942.4,1445.6 1944.5,1445.9 1946.6,1446.2 1948.7,1446.5 1950.7,1446.7 1952.7,1446.9 1954.6,1447.1 1956.4,1447.2 1958.5,1447.3 1960.7,1447.2 1962.7,1447.1 1964.5,1447.0 1966.3,1446.8 1968.1,1446.6 1969.9,1446.4 1971.8,1446.1 1973.9,1445.9 1976.2,1445.6 1978.8,1445.4 1980.5,1445.3 1982.2,1445.1 1984.1,1445.0 1986.2,1444.9 1988.4,1444.7 1990.6,1444.6 1992.9,1444.4 1995.1,1444.3 1997.4,1444.1 1999.6,1444.0 2001.8,1443.8 2003.9,1443.7 2005.8,1443.6 2007.6,1443.5 2009.2,1443.5 2011.3,1443.4 2014.2,1443.3 2016.9,1443.2 2019.5,1443.2 2021.8,1443.2 2024.0,1443.2 2025.9,1443.3 2027.2,1443.3 2028.0,1443.3 2030.0,1443.3" stroke="#ee0000" stroke-width="5.6"/>
</g>
<line x1="494.5" y1="1519" x2="494.5" y2="1500.8" stroke="#000" stroke-width="7"/>
<line x1="801.9" y1="1519" x2="801.9" y2="1500.8" stroke="#000" stroke-width="7"/>
<line x1="1109.3" y1="1519" x2="1109.3" y2="1500.8" stroke="#000" stroke-width="7"/>
<line x1="1416.7" y1="1519" x2="1416.7" y2="1500.8" stroke="#000" stroke-width="7"/>
<line x1="1724.1" y1="1519" x2="1724.1" y2="1500.8" stroke="#000" stroke-width="7"/>
<rect x="187.1" y="39.5" width="1844.4" height="1479.5" fill="none" stroke="#000" stroke-width="7.6"/>
<text x="185.5" y="1621.2" class="b" font-size="93" text-anchor="middle">250</text>
<text x="800.2" y="1621.2" class="b" font-size="93" text-anchor="middle">350</text>
<text x="1415.0" y="1621.2" class="b" font-size="93" text-anchor="middle">450</text>
<text x="2030.5" y="1621.2" class="b" font-size="93" text-anchor="middle">550</text>
<text transform="translate(778,1744) scale(0.966,1)" class="b" font-size="94.5">Temperature</text>
<text x="1316" y="1744" class="r" font-size="94">/</text>
<text x="1362.5" y="1744" class="r" font-size="94">°</text>
<text x="1396.5" y="1744" class="b" font-size="94">C</text>
<text transform="translate(98.5,811) rotate(-90) scale(0.962,1)" class="b" font-size="94.5" text-anchor="middle">Heat Flow <tspan font-weight="normal">/</tspan> (mW/mg)</text>
<text x="2020.2" y="616" class="r" font-size="76" text-anchor="end">25°C/min</text>
<text x="2011.2" y="916" class="r" font-size="76" text-anchor="end">20°C/min</text>
<text x="2005.8" y="1171" class="r" font-size="76" text-anchor="end">10°C/min</text>
<text x="1989" y="1396" class="r" font-size="76" text-anchor="end">5°C/min</text>
</svg>
</body></html>
